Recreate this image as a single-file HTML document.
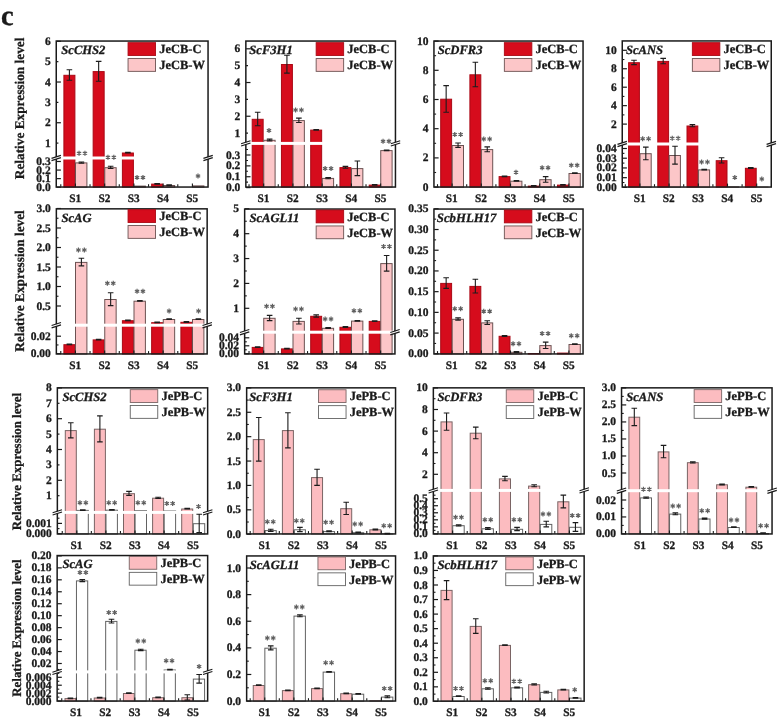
<!DOCTYPE html>
<html><head><meta charset="utf-8"><title>Figure c</title>
<style>html,body{margin:0;padding:0;background:#fff}svg{display:block;will-change:transform;font-family:"Liberation Serif",serif;text-rendering:geometricPrecision}text{stroke:#1a1a1a;stroke-width:.3px}</style>
</head><body>
<svg width="778" height="717" viewBox="0 0 778 717">
<rect width="778" height="717" fill="#fff"/>
<text x="1" y="25" font-size="28.5" text-anchor="start" font-weight="bold" fill="#1a1a1a">c</text>
<text transform="translate(23.7 108.4) rotate(-90)" font-size="13.3" font-weight="bold" text-anchor="middle" fill="#1a1a1a">Relative Expression level</text>
<text transform="translate(23.7 281) rotate(-90)" font-size="13.3" font-weight="bold" text-anchor="middle" fill="#1a1a1a">Relative Expression level</text>
<text transform="translate(21.3 461.5) rotate(-90)" font-size="12.9" font-weight="bold" text-anchor="middle" fill="#1a1a1a">Relative Expression level</text>
<text transform="translate(21.3 628.1) rotate(-90)" font-size="12.9" font-weight="bold" text-anchor="middle" fill="#1a1a1a">Relative Expression level</text>
<g>
<rect x="63.9" y="75.3" width="11" height="111.8" fill="#d60c1c" stroke="#aa0914" stroke-width="1"/>
<rect x="75.5" y="162.9" width="11.4" height="24.2" fill="#fcc6c8" stroke="#6c5252" stroke-width="1"/>
<rect x="93.15" y="71.6" width="11" height="115.5" fill="#d60c1c" stroke="#aa0914" stroke-width="1"/>
<rect x="104.75" y="167.7" width="11.4" height="19.4" fill="#fcc6c8" stroke="#6c5252" stroke-width="1"/>
<rect x="122.4" y="153" width="11" height="34.1" fill="#d60c1c" stroke="#aa0914" stroke-width="1"/>
<rect x="134" y="186.1" width="11.4" height="1" fill="#fcc6c8" stroke="#6c5252" stroke-width="1"/>
<rect x="151.65" y="184.1" width="11" height="3" fill="#d60c1c" stroke="#aa0914" stroke-width="1"/>
<rect x="163.25" y="185.5" width="11.4" height="1.6" fill="#fcc6c8" stroke="#6c5252" stroke-width="1"/>
<rect x="192.5" y="185.9" width="11.4" height="1.2" fill="#fcc6c8" stroke="#6c5252" stroke-width="1"/>
<rect x="56" y="156.5" width="152.3" height="3" fill="#fff"/>
<path d="M69.4 69.7V80.3M66.6 69.7H72.2M66.6 80.3H72.2" stroke="#1c1c1c" stroke-width="1.1" fill="none"/>
<path d="M81.4 162V163.2M78.6 162H84.2M78.6 163.2H84.2" stroke="#1c1c1c" stroke-width="1.1" fill="none"/>
<path d="M98.65 61.4V81.2M95.85 61.4H101.45M95.85 81.2H101.45" stroke="#1c1c1c" stroke-width="1.1" fill="none"/>
<path d="M110.65 166.3V168.5M107.85 166.3H113.45M107.85 168.5H113.45" stroke="#1c1c1c" stroke-width="1.1" fill="none"/>
<path d="M127.9 152.35V153.05M125.1 152.35H130.7M125.1 153.05H130.7" stroke="#1c1c1c" stroke-width="1.1" fill="none"/>
<path d="M157.15 183.45V184.15M154.35 183.45H159.95M154.35 184.15H159.95" stroke="#1c1c1c" stroke-width="1.1" fill="none"/>
<path d="M169.15 184.8V185.6M166.35 184.8H171.95M166.35 185.6H171.95" stroke="#1c1c1c" stroke-width="1.1" fill="none"/>
<rect x="56.25" y="41.05" width="151.8" height="146" fill="none" stroke="#1a1a1a" stroke-width="1.5"/>
<line x1="56.5" y1="41.3" x2="60.9" y2="41.3" stroke="#1a1a1a" stroke-width="1.2"/>
<text x="50.7" y="44.8" font-size="11.5" text-anchor="end" font-weight="bold" fill="#1a1a1a">6</text>
<line x1="56.5" y1="61.66" x2="58.4" y2="61.66" stroke="#1a1a1a" stroke-width="1.2"/>
<text x="50.7" y="65.16" font-size="11.5" text-anchor="end" font-weight="bold" fill="#1a1a1a">5</text>
<line x1="56.5" y1="82.02" x2="60.9" y2="82.02" stroke="#1a1a1a" stroke-width="1.2"/>
<text x="50.7" y="85.52" font-size="11.5" text-anchor="end" font-weight="bold" fill="#1a1a1a">4</text>
<line x1="56.5" y1="102.38" x2="58.4" y2="102.38" stroke="#1a1a1a" stroke-width="1.2"/>
<text x="50.7" y="105.88" font-size="11.5" text-anchor="end" font-weight="bold" fill="#1a1a1a">3</text>
<line x1="56.5" y1="122.74" x2="60.9" y2="122.74" stroke="#1a1a1a" stroke-width="1.2"/>
<text x="50.7" y="126.24" font-size="11.5" text-anchor="end" font-weight="bold" fill="#1a1a1a">2</text>
<line x1="56.5" y1="143.1" x2="58.4" y2="143.1" stroke="#1a1a1a" stroke-width="1.2"/>
<text x="50.7" y="146.6" font-size="11.5" text-anchor="end" font-weight="bold" fill="#1a1a1a">1</text>
<line x1="56.5" y1="161.5" x2="60.9" y2="161.5" stroke="#1a1a1a" stroke-width="1.2"/>
<text x="50.7" y="165" font-size="11.5" text-anchor="end" font-weight="bold" fill="#1a1a1a">0.3</text>
<line x1="56.5" y1="170.07" x2="60.9" y2="170.07" stroke="#1a1a1a" stroke-width="1.2"/>
<text x="50.7" y="173.57" font-size="11.5" text-anchor="end" font-weight="bold" fill="#1a1a1a">0.2</text>
<line x1="56.5" y1="178.63" x2="60.9" y2="178.63" stroke="#1a1a1a" stroke-width="1.2"/>
<text x="50.7" y="182.13" font-size="11.5" text-anchor="end" font-weight="bold" fill="#1a1a1a">0.1</text>
<line x1="56.5" y1="187.2" x2="60.9" y2="187.2" stroke="#1a1a1a" stroke-width="1.2"/>
<text x="50.7" y="190.7" font-size="11.5" text-anchor="end" font-weight="bold" fill="#1a1a1a">0.0</text>
<text x="75.1" y="201.6" font-size="11.3" text-anchor="middle" font-weight="bold" fill="#1a1a1a">S1</text>
<line x1="60.78" y1="186.8" x2="60.78" y2="184.2" stroke="#1a1a1a" stroke-width="1.1"/>
<line x1="75.4" y1="186.8" x2="75.4" y2="183.6" stroke="#1a1a1a" stroke-width="1.1"/>
<text x="104.35" y="201.6" font-size="11.3" text-anchor="middle" font-weight="bold" fill="#1a1a1a">S2</text>
<line x1="90.03" y1="186.8" x2="90.03" y2="184.2" stroke="#1a1a1a" stroke-width="1.1"/>
<line x1="104.65" y1="186.8" x2="104.65" y2="183.6" stroke="#1a1a1a" stroke-width="1.1"/>
<text x="133.6" y="201.6" font-size="11.3" text-anchor="middle" font-weight="bold" fill="#1a1a1a">S3</text>
<line x1="119.28" y1="186.8" x2="119.28" y2="184.2" stroke="#1a1a1a" stroke-width="1.1"/>
<line x1="133.9" y1="186.8" x2="133.9" y2="183.6" stroke="#1a1a1a" stroke-width="1.1"/>
<text x="162.85" y="201.6" font-size="11.3" text-anchor="middle" font-weight="bold" fill="#1a1a1a">S4</text>
<line x1="148.53" y1="186.8" x2="148.53" y2="184.2" stroke="#1a1a1a" stroke-width="1.1"/>
<line x1="163.15" y1="186.8" x2="163.15" y2="183.6" stroke="#1a1a1a" stroke-width="1.1"/>
<text x="192.1" y="201.6" font-size="11.3" text-anchor="middle" font-weight="bold" fill="#1a1a1a">S5</text>
<line x1="177.78" y1="186.8" x2="177.78" y2="184.2" stroke="#1a1a1a" stroke-width="1.1"/>
<line x1="192.4" y1="186.8" x2="192.4" y2="183.6" stroke="#1a1a1a" stroke-width="1.1"/>
<rect x="54.7" y="157" width="3" height="2" fill="#fff"/>
<line x1="51.5" y1="158.35" x2="60.9" y2="155.35" stroke="#1a1a1a" stroke-width="1.15"/>
<line x1="51.5" y1="160.65" x2="60.9" y2="157.65" stroke="#1a1a1a" stroke-width="1.15"/>
<rect x="206.6" y="157" width="3" height="2" fill="#fff"/>
<line x1="203.4" y1="158.35" x2="212.8" y2="155.35" stroke="#1a1a1a" stroke-width="1.15"/>
<line x1="203.4" y1="160.65" x2="212.8" y2="157.65" stroke="#1a1a1a" stroke-width="1.15"/>
<text x="61.3" y="53.9" font-size="12.6" text-anchor="start" font-weight="bold" font-style="italic" fill="#1a1a1a">ScCHS2</text>
<rect x="128.05" y="42.65" width="27.5" height="12.8" fill="#d60c1c" stroke="#aa0914" stroke-width="0.9"/>
<rect x="128.05" y="58.55" width="27.5" height="12.8" fill="#fcc6c8" stroke="#6c5252" stroke-width="0.9"/>
<text x="159.2" y="53.3" font-size="12.5" text-anchor="start" font-weight="bold" fill="#1a1a1a">JeCB-C</text>
<text x="159.2" y="69.2" font-size="12.5" text-anchor="start" font-weight="bold" fill="#1a1a1a">JeCB-W</text>
<path d="M79.05 150.8v5M76.88 152.05l4.33 2.5M76.88 154.55l4.33 -2.5M84.95 150.8v5M82.78 152.05l4.33 2.5M82.78 154.55l4.33 -2.5M107.95 154.7v5M105.78 155.95l4.33 2.5M105.78 158.45l4.33 -2.5M113.85 154.7v5M111.69 155.95l4.33 2.5M111.69 158.45l4.33 -2.5M137.05 175.1v5M134.89 176.35l4.33 2.5M134.89 178.85l4.33 -2.5M142.95 175.1v5M140.78 176.35l4.33 2.5M140.78 178.85l4.33 -2.5M198 173.4v5M195.84 174.65l4.33 2.5M195.84 177.15l4.33 -2.5" stroke="#606060" stroke-width="1.2" fill="none"/>
</g>
<g>
<rect x="252.2" y="119.3" width="10.95" height="67.8" fill="#d60c1c" stroke="#aa0914" stroke-width="1"/>
<rect x="263.75" y="140.3" width="11.35" height="46.8" fill="#fcc6c8" stroke="#6c5252" stroke-width="1"/>
<rect x="281.45" y="64.5" width="10.95" height="122.6" fill="#d60c1c" stroke="#aa0914" stroke-width="1"/>
<rect x="293" y="120.6" width="11.35" height="66.5" fill="#fcc6c8" stroke="#6c5252" stroke-width="1"/>
<rect x="310.7" y="130.1" width="10.95" height="57" fill="#d60c1c" stroke="#aa0914" stroke-width="1"/>
<rect x="322.25" y="178.4" width="11.35" height="8.7" fill="#fcc6c8" stroke="#6c5252" stroke-width="1"/>
<rect x="339.95" y="167.6" width="10.95" height="19.5" fill="#d60c1c" stroke="#aa0914" stroke-width="1"/>
<rect x="351.5" y="168.6" width="11.35" height="18.5" fill="#fcc6c8" stroke="#6c5252" stroke-width="1"/>
<rect x="369.2" y="185.1" width="10.95" height="2" fill="#d60c1c" stroke="#aa0914" stroke-width="1"/>
<rect x="380.75" y="150.6" width="11.35" height="36.5" fill="#fcc6c8" stroke="#6c5252" stroke-width="1"/>
<rect x="245.6" y="141.9" width="150.1" height="3" fill="#fff"/>
<path d="M257.68 112.2V125.8M254.88 112.2H260.48M254.88 125.8H260.48" stroke="#1c1c1c" stroke-width="1.1" fill="none"/>
<path d="M269.62 139.1V140.9M266.82 139.1H272.43M266.82 140.9H272.43" stroke="#1c1c1c" stroke-width="1.1" fill="none"/>
<path d="M286.93 55.3V73.1M284.12 55.3H289.73M284.12 73.1H289.73" stroke="#1c1c1c" stroke-width="1.1" fill="none"/>
<path d="M298.88 118.1V122.5M296.07 118.1H301.68M296.07 122.5H301.68" stroke="#1c1c1c" stroke-width="1.1" fill="none"/>
<path d="M316.18 129.45V130.15M313.38 129.45H318.98M313.38 130.15H318.98" stroke="#1c1c1c" stroke-width="1.1" fill="none"/>
<path d="M328.12 177.5V178.7M325.32 177.5H330.93M325.32 178.7H330.93" stroke="#1c1c1c" stroke-width="1.1" fill="none"/>
<path d="M345.43 166.4V168.2M342.62 166.4H348.23M342.62 168.2H348.23" stroke="#1c1c1c" stroke-width="1.1" fill="none"/>
<path d="M357.38 161V175.6M354.57 161H360.18M354.57 175.6H360.18" stroke="#1c1c1c" stroke-width="1.1" fill="none"/>
<path d="M374.68 184.45V185.15M371.88 184.45H377.48M371.88 185.15H377.48" stroke="#1c1c1c" stroke-width="1.1" fill="none"/>
<path d="M386.62 149.95V150.65M383.82 149.95H389.43M383.82 150.65H389.43" stroke="#1c1c1c" stroke-width="1.1" fill="none"/>
<rect x="245.85" y="41.05" width="149.6" height="146" fill="none" stroke="#1a1a1a" stroke-width="1.5"/>
<line x1="246.1" y1="48.8" x2="250.5" y2="48.8" stroke="#1a1a1a" stroke-width="1.2"/>
<text x="240.3" y="52.3" font-size="11.5" text-anchor="end" font-weight="bold" fill="#1a1a1a">6</text>
<line x1="246.1" y1="65.66" x2="248" y2="65.66" stroke="#1a1a1a" stroke-width="1.2"/>
<text x="240.3" y="69.16" font-size="11.5" text-anchor="end" font-weight="bold" fill="#1a1a1a">5</text>
<line x1="246.1" y1="82.52" x2="250.5" y2="82.52" stroke="#1a1a1a" stroke-width="1.2"/>
<text x="240.3" y="86.02" font-size="11.5" text-anchor="end" font-weight="bold" fill="#1a1a1a">4</text>
<line x1="246.1" y1="99.38" x2="248" y2="99.38" stroke="#1a1a1a" stroke-width="1.2"/>
<text x="240.3" y="102.88" font-size="11.5" text-anchor="end" font-weight="bold" fill="#1a1a1a">3</text>
<line x1="246.1" y1="116.24" x2="250.5" y2="116.24" stroke="#1a1a1a" stroke-width="1.2"/>
<text x="240.3" y="119.74" font-size="11.5" text-anchor="end" font-weight="bold" fill="#1a1a1a">2</text>
<line x1="246.1" y1="133.1" x2="248" y2="133.1" stroke="#1a1a1a" stroke-width="1.2"/>
<text x="240.3" y="136.6" font-size="11.5" text-anchor="end" font-weight="bold" fill="#1a1a1a">1</text>
<line x1="246.1" y1="155" x2="250.5" y2="155" stroke="#1a1a1a" stroke-width="1.2"/>
<text x="240.3" y="158.5" font-size="11.5" text-anchor="end" font-weight="bold" fill="#1a1a1a">0.3</text>
<line x1="246.1" y1="165.87" x2="250.5" y2="165.87" stroke="#1a1a1a" stroke-width="1.2"/>
<text x="240.3" y="169.37" font-size="11.5" text-anchor="end" font-weight="bold" fill="#1a1a1a">0.2</text>
<line x1="246.1" y1="176.73" x2="250.5" y2="176.73" stroke="#1a1a1a" stroke-width="1.2"/>
<text x="240.3" y="180.23" font-size="11.5" text-anchor="end" font-weight="bold" fill="#1a1a1a">0.1</text>
<line x1="246.1" y1="187.6" x2="250.5" y2="187.6" stroke="#1a1a1a" stroke-width="1.2"/>
<text x="240.3" y="191.1" font-size="11.5" text-anchor="end" font-weight="bold" fill="#1a1a1a">0.0</text>
<line x1="246.1" y1="149.57" x2="248" y2="149.57" stroke="#1a1a1a" stroke-width="1.1"/>
<line x1="246.1" y1="160.43" x2="248" y2="160.43" stroke="#1a1a1a" stroke-width="1.1"/>
<line x1="246.1" y1="171.3" x2="248" y2="171.3" stroke="#1a1a1a" stroke-width="1.1"/>
<line x1="246.1" y1="182.17" x2="248" y2="182.17" stroke="#1a1a1a" stroke-width="1.1"/>
<text x="263.35" y="201.6" font-size="11.3" text-anchor="middle" font-weight="bold" fill="#1a1a1a">S1</text>
<line x1="249.02" y1="186.8" x2="249.02" y2="184.2" stroke="#1a1a1a" stroke-width="1.1"/>
<line x1="263.65" y1="186.8" x2="263.65" y2="183.6" stroke="#1a1a1a" stroke-width="1.1"/>
<text x="292.6" y="201.6" font-size="11.3" text-anchor="middle" font-weight="bold" fill="#1a1a1a">S2</text>
<line x1="278.27" y1="186.8" x2="278.27" y2="184.2" stroke="#1a1a1a" stroke-width="1.1"/>
<line x1="292.9" y1="186.8" x2="292.9" y2="183.6" stroke="#1a1a1a" stroke-width="1.1"/>
<text x="321.85" y="201.6" font-size="11.3" text-anchor="middle" font-weight="bold" fill="#1a1a1a">S3</text>
<line x1="307.52" y1="186.8" x2="307.52" y2="184.2" stroke="#1a1a1a" stroke-width="1.1"/>
<line x1="322.15" y1="186.8" x2="322.15" y2="183.6" stroke="#1a1a1a" stroke-width="1.1"/>
<text x="351.1" y="201.6" font-size="11.3" text-anchor="middle" font-weight="bold" fill="#1a1a1a">S4</text>
<line x1="336.77" y1="186.8" x2="336.77" y2="184.2" stroke="#1a1a1a" stroke-width="1.1"/>
<line x1="351.4" y1="186.8" x2="351.4" y2="183.6" stroke="#1a1a1a" stroke-width="1.1"/>
<text x="380.35" y="201.6" font-size="11.3" text-anchor="middle" font-weight="bold" fill="#1a1a1a">S5</text>
<line x1="366.02" y1="186.8" x2="366.02" y2="184.2" stroke="#1a1a1a" stroke-width="1.1"/>
<line x1="380.65" y1="186.8" x2="380.65" y2="183.6" stroke="#1a1a1a" stroke-width="1.1"/>
<rect x="244.3" y="142.4" width="3" height="2" fill="#fff"/>
<line x1="241.1" y1="143.75" x2="250.5" y2="140.75" stroke="#1a1a1a" stroke-width="1.15"/>
<line x1="241.1" y1="146.05" x2="250.5" y2="143.05" stroke="#1a1a1a" stroke-width="1.15"/>
<rect x="394" y="142.4" width="3" height="2" fill="#fff"/>
<line x1="390.8" y1="143.75" x2="400.2" y2="140.75" stroke="#1a1a1a" stroke-width="1.15"/>
<line x1="390.8" y1="146.05" x2="400.2" y2="143.05" stroke="#1a1a1a" stroke-width="1.15"/>
<text x="249.3" y="53.9" font-size="12.6" text-anchor="start" font-weight="bold" font-style="italic" fill="#1a1a1a">ScF3H1</text>
<rect x="316.15" y="42.65" width="27.5" height="12.8" fill="#d60c1c" stroke="#aa0914" stroke-width="0.9"/>
<rect x="316.15" y="58.55" width="27.5" height="12.8" fill="#fcc6c8" stroke="#6c5252" stroke-width="0.9"/>
<text x="347.3" y="53.3" font-size="12.5" text-anchor="start" font-weight="bold" fill="#1a1a1a">JeCB-C</text>
<text x="347.3" y="69.2" font-size="12.5" text-anchor="start" font-weight="bold" fill="#1a1a1a">JeCB-W</text>
<path d="M269 128v5M266.83 129.25l4.33 2.5M266.83 131.75l4.33 -2.5M295.55 107.5v5M293.38 108.75l4.33 2.5M293.38 111.25l4.33 -2.5M301.45 107.5v5M299.28 108.75l4.33 2.5M299.28 111.25l4.33 -2.5M325.15 166.1v5M322.99 167.35l4.33 2.5M322.99 169.85l4.33 -2.5M331.05 166.1v5M328.88 167.35l4.33 2.5M328.88 169.85l4.33 -2.5M383.05 138.8v5M380.88 140.05l4.33 2.5M380.88 142.55l4.33 -2.5M388.95 138.8v5M386.78 140.05l4.33 2.5M386.78 142.55l4.33 -2.5" stroke="#606060" stroke-width="1.2" fill="none"/>
</g>
<g>
<rect x="440.7" y="99.2" width="10.9" height="87.9" fill="#d60c1c" stroke="#aa0914" stroke-width="1"/>
<rect x="452.2" y="145.5" width="11.3" height="41.6" fill="#fcc6c8" stroke="#6c5252" stroke-width="1"/>
<rect x="469.9" y="74.8" width="10.9" height="112.3" fill="#d60c1c" stroke="#aa0914" stroke-width="1"/>
<rect x="481.4" y="149.6" width="11.3" height="37.5" fill="#fcc6c8" stroke="#6c5252" stroke-width="1"/>
<rect x="499.1" y="176.6" width="10.9" height="10.5" fill="#d60c1c" stroke="#aa0914" stroke-width="1"/>
<rect x="510.6" y="181.2" width="11.3" height="5.9" fill="#fcc6c8" stroke="#6c5252" stroke-width="1"/>
<rect x="528.3" y="186.1" width="10.9" height="1" fill="#d60c1c" stroke="#aa0914" stroke-width="1"/>
<rect x="539.8" y="179.7" width="11.3" height="7.4" fill="#fcc6c8" stroke="#6c5252" stroke-width="1"/>
<rect x="557.5" y="185.1" width="10.9" height="2" fill="#d60c1c" stroke="#aa0914" stroke-width="1"/>
<rect x="569" y="173.5" width="11.3" height="13.6" fill="#fcc6c8" stroke="#6c5252" stroke-width="1"/>
<path d="M446.15 85.6V112.2M443.35 85.6H448.95M443.35 112.2H448.95" stroke="#1c1c1c" stroke-width="1.1" fill="none"/>
<path d="M458.05 143V147.4M455.25 143H460.85M455.25 147.4H460.85" stroke="#1c1c1c" stroke-width="1.1" fill="none"/>
<path d="M475.35 62.2V86.8M472.55 62.2H478.15M472.55 86.8H478.15" stroke="#1c1c1c" stroke-width="1.1" fill="none"/>
<path d="M487.25 146.9V151.7M484.45 146.9H490.05M484.45 151.7H490.05" stroke="#1c1c1c" stroke-width="1.1" fill="none"/>
<path d="M504.55 175.95V176.65M501.75 175.95H507.35M501.75 176.65H507.35" stroke="#1c1c1c" stroke-width="1.1" fill="none"/>
<path d="M516.45 180.55V181.25M513.65 180.55H519.25M513.65 181.25H519.25" stroke="#1c1c1c" stroke-width="1.1" fill="none"/>
<path d="M533.75 185.45V186.15M530.95 185.45H536.55M530.95 186.15H536.55" stroke="#1c1c1c" stroke-width="1.1" fill="none"/>
<path d="M545.65 176.6V182.2M542.85 176.6H548.45M542.85 182.2H548.45" stroke="#1c1c1c" stroke-width="1.1" fill="none"/>
<path d="M562.95 184.45V185.15M560.15 184.45H565.75M560.15 185.15H565.75" stroke="#1c1c1c" stroke-width="1.1" fill="none"/>
<path d="M574.85 172.85V173.55M572.05 172.85H577.65M572.05 173.55H577.65" stroke="#1c1c1c" stroke-width="1.1" fill="none"/>
<rect x="433.95" y="41.05" width="149.1" height="146" fill="none" stroke="#1a1a1a" stroke-width="1.5"/>
<line x1="434.2" y1="41.1" x2="438.6" y2="41.1" stroke="#1a1a1a" stroke-width="1.2"/>
<text x="428.4" y="44.6" font-size="11.5" text-anchor="end" font-weight="bold" fill="#1a1a1a">10</text>
<line x1="434.2" y1="70.3" x2="438.6" y2="70.3" stroke="#1a1a1a" stroke-width="1.2"/>
<text x="428.4" y="73.8" font-size="11.5" text-anchor="end" font-weight="bold" fill="#1a1a1a">8</text>
<line x1="434.2" y1="99.5" x2="438.6" y2="99.5" stroke="#1a1a1a" stroke-width="1.2"/>
<text x="428.4" y="103" font-size="11.5" text-anchor="end" font-weight="bold" fill="#1a1a1a">6</text>
<line x1="434.2" y1="128.7" x2="438.6" y2="128.7" stroke="#1a1a1a" stroke-width="1.2"/>
<text x="428.4" y="132.2" font-size="11.5" text-anchor="end" font-weight="bold" fill="#1a1a1a">4</text>
<line x1="434.2" y1="157.9" x2="438.6" y2="157.9" stroke="#1a1a1a" stroke-width="1.2"/>
<text x="428.4" y="161.4" font-size="11.5" text-anchor="end" font-weight="bold" fill="#1a1a1a">2</text>
<line x1="434.2" y1="187.1" x2="438.6" y2="187.1" stroke="#1a1a1a" stroke-width="1.2"/>
<text x="428.4" y="190.6" font-size="11.5" text-anchor="end" font-weight="bold" fill="#1a1a1a">0</text>
<line x1="434.2" y1="55.7" x2="436.1" y2="55.7" stroke="#1a1a1a" stroke-width="1.1"/>
<line x1="434.2" y1="84.9" x2="436.1" y2="84.9" stroke="#1a1a1a" stroke-width="1.1"/>
<line x1="434.2" y1="114.1" x2="436.1" y2="114.1" stroke="#1a1a1a" stroke-width="1.1"/>
<line x1="434.2" y1="143.3" x2="436.1" y2="143.3" stroke="#1a1a1a" stroke-width="1.1"/>
<line x1="434.2" y1="172.5" x2="436.1" y2="172.5" stroke="#1a1a1a" stroke-width="1.1"/>
<text x="451.8" y="201.6" font-size="11.3" text-anchor="middle" font-weight="bold" fill="#1a1a1a">S1</text>
<line x1="437.5" y1="186.8" x2="437.5" y2="184.2" stroke="#1a1a1a" stroke-width="1.1"/>
<line x1="452.1" y1="186.8" x2="452.1" y2="183.6" stroke="#1a1a1a" stroke-width="1.1"/>
<text x="481" y="201.6" font-size="11.3" text-anchor="middle" font-weight="bold" fill="#1a1a1a">S2</text>
<line x1="466.7" y1="186.8" x2="466.7" y2="184.2" stroke="#1a1a1a" stroke-width="1.1"/>
<line x1="481.3" y1="186.8" x2="481.3" y2="183.6" stroke="#1a1a1a" stroke-width="1.1"/>
<text x="510.2" y="201.6" font-size="11.3" text-anchor="middle" font-weight="bold" fill="#1a1a1a">S3</text>
<line x1="495.9" y1="186.8" x2="495.9" y2="184.2" stroke="#1a1a1a" stroke-width="1.1"/>
<line x1="510.5" y1="186.8" x2="510.5" y2="183.6" stroke="#1a1a1a" stroke-width="1.1"/>
<text x="539.4" y="201.6" font-size="11.3" text-anchor="middle" font-weight="bold" fill="#1a1a1a">S4</text>
<line x1="525.1" y1="186.8" x2="525.1" y2="184.2" stroke="#1a1a1a" stroke-width="1.1"/>
<line x1="539.7" y1="186.8" x2="539.7" y2="183.6" stroke="#1a1a1a" stroke-width="1.1"/>
<text x="568.6" y="201.6" font-size="11.3" text-anchor="middle" font-weight="bold" fill="#1a1a1a">S5</text>
<line x1="554.3" y1="186.8" x2="554.3" y2="184.2" stroke="#1a1a1a" stroke-width="1.1"/>
<line x1="568.9" y1="186.8" x2="568.9" y2="183.6" stroke="#1a1a1a" stroke-width="1.1"/>
<text x="437.7" y="53.9" font-size="12.6" text-anchor="start" font-weight="bold" font-style="italic" fill="#1a1a1a">ScDFR3</text>
<rect x="504.35" y="42.65" width="27.5" height="12.8" fill="#d60c1c" stroke="#aa0914" stroke-width="0.9"/>
<rect x="504.35" y="58.55" width="27.5" height="12.8" fill="#fcc6c8" stroke="#6c5252" stroke-width="0.9"/>
<text x="535.5" y="53.3" font-size="12.5" text-anchor="start" font-weight="bold" fill="#1a1a1a">JeCB-C</text>
<text x="535.5" y="69.2" font-size="12.5" text-anchor="start" font-weight="bold" fill="#1a1a1a">JeCB-W</text>
<path d="M454.75 131.9v5M452.58 133.15l4.33 2.5M452.58 135.65l4.33 -2.5M460.65 131.9v5M458.48 133.15l4.33 2.5M458.48 135.65l4.33 -2.5M483.75 136.5v5M481.58 137.75l4.33 2.5M481.58 140.25l4.33 -2.5M489.65 136.5v5M487.48 137.75l4.33 2.5M487.48 140.25l4.33 -2.5M516 169.7v5M513.84 170.95l4.33 2.5M513.84 173.45l4.33 -2.5M542.15 165.3v5M539.99 166.55l4.33 2.5M539.99 169.05l4.33 -2.5M548.05 165.3v5M545.89 166.55l4.33 2.5M545.89 169.05l4.33 -2.5M571.25 162.7v5M569.09 163.95l4.33 2.5M569.09 166.45l4.33 -2.5M577.15 162.7v5M574.99 163.95l4.33 2.5M574.99 166.45l4.33 -2.5" stroke="#606060" stroke-width="1.2" fill="none"/>
</g>
<g>
<rect x="628.6" y="62.7" width="10.8" height="124.4" fill="#d60c1c" stroke="#aa0914" stroke-width="1"/>
<rect x="640" y="153.7" width="11.2" height="33.4" fill="#fcc6c8" stroke="#6c5252" stroke-width="1"/>
<rect x="657.8" y="61.4" width="10.8" height="125.7" fill="#d60c1c" stroke="#aa0914" stroke-width="1"/>
<rect x="669.2" y="155.5" width="11.2" height="31.6" fill="#fcc6c8" stroke="#6c5252" stroke-width="1"/>
<rect x="687" y="126" width="10.8" height="61.1" fill="#d60c1c" stroke="#aa0914" stroke-width="1"/>
<rect x="698.4" y="169.9" width="11.2" height="17.2" fill="#fcc6c8" stroke="#6c5252" stroke-width="1"/>
<rect x="716.2" y="160.7" width="10.8" height="26.4" fill="#d60c1c" stroke="#aa0914" stroke-width="1"/>
<rect x="727.6" y="186.9" width="11.2" height="0.2" fill="#fcc6c8" stroke="#6c5252" stroke-width="1"/>
<rect x="745.4" y="168.3" width="10.8" height="18.8" fill="#d60c1c" stroke="#aa0914" stroke-width="1"/>
<line x1="756.7" y1="187" x2="768.5" y2="187" stroke="#6c5252" stroke-width="0.8"/>
<rect x="622" y="142.5" width="149.5" height="3" fill="#fff"/>
<path d="M634 60.2V64.6M631.2 60.2H636.8M631.2 64.6H636.8" stroke="#1c1c1c" stroke-width="1.1" fill="none"/>
<path d="M645.8 147.1V159.7M643 147.1H648.6M643 159.7H648.6" stroke="#1c1c1c" stroke-width="1.1" fill="none"/>
<path d="M663.2 58.4V63.8M660.4 58.4H666M660.4 63.8H666" stroke="#1c1c1c" stroke-width="1.1" fill="none"/>
<path d="M675 146.3V164.1M672.2 146.3H677.8M672.2 164.1H677.8" stroke="#1c1c1c" stroke-width="1.1" fill="none"/>
<path d="M692.4 124.6V126.8M689.6 124.6H695.2M689.6 126.8H695.2" stroke="#1c1c1c" stroke-width="1.1" fill="none"/>
<path d="M704.2 169.25V169.95M701.4 169.25H707M701.4 169.95H707" stroke="#1c1c1c" stroke-width="1.1" fill="none"/>
<path d="M721.6 157.8V163M718.8 157.8H724.4M718.8 163H724.4" stroke="#1c1c1c" stroke-width="1.1" fill="none"/>
<path d="M750.8 167.65V168.35M748 167.65H753.6M748 168.35H753.6" stroke="#1c1c1c" stroke-width="1.1" fill="none"/>
<rect x="622.25" y="40.95" width="149" height="146.1" fill="none" stroke="#1a1a1a" stroke-width="1.5"/>
<line x1="622.5" y1="50.3" x2="626.9" y2="50.3" stroke="#1a1a1a" stroke-width="1.2"/>
<text x="616.7" y="53.8" font-size="11.5" text-anchor="end" font-weight="bold" fill="#1a1a1a">10</text>
<line x1="622.5" y1="68.75" x2="626.9" y2="68.75" stroke="#1a1a1a" stroke-width="1.2"/>
<text x="616.7" y="72.25" font-size="11.5" text-anchor="end" font-weight="bold" fill="#1a1a1a">8</text>
<line x1="622.5" y1="87.2" x2="626.9" y2="87.2" stroke="#1a1a1a" stroke-width="1.2"/>
<text x="616.7" y="90.7" font-size="11.5" text-anchor="end" font-weight="bold" fill="#1a1a1a">6</text>
<line x1="622.5" y1="105.65" x2="626.9" y2="105.65" stroke="#1a1a1a" stroke-width="1.2"/>
<text x="616.7" y="109.15" font-size="11.5" text-anchor="end" font-weight="bold" fill="#1a1a1a">4</text>
<line x1="622.5" y1="124.1" x2="626.9" y2="124.1" stroke="#1a1a1a" stroke-width="1.2"/>
<text x="616.7" y="127.6" font-size="11.5" text-anchor="end" font-weight="bold" fill="#1a1a1a">2</text>
<line x1="622.5" y1="148.5" x2="626.9" y2="148.5" stroke="#1a1a1a" stroke-width="1.2"/>
<text x="616.7" y="152" font-size="11.5" text-anchor="end" font-weight="bold" fill="#1a1a1a">0.04</text>
<line x1="622.5" y1="158.22" x2="626.9" y2="158.22" stroke="#1a1a1a" stroke-width="1.2"/>
<text x="616.7" y="161.72" font-size="11.5" text-anchor="end" font-weight="bold" fill="#1a1a1a">0.03</text>
<line x1="622.5" y1="167.95" x2="626.9" y2="167.95" stroke="#1a1a1a" stroke-width="1.2"/>
<text x="616.7" y="171.45" font-size="11.5" text-anchor="end" font-weight="bold" fill="#1a1a1a">0.02</text>
<line x1="622.5" y1="177.68" x2="626.9" y2="177.68" stroke="#1a1a1a" stroke-width="1.2"/>
<text x="616.7" y="181.18" font-size="11.5" text-anchor="end" font-weight="bold" fill="#1a1a1a">0.01</text>
<line x1="622.5" y1="187.4" x2="626.9" y2="187.4" stroke="#1a1a1a" stroke-width="1.2"/>
<text x="616.7" y="190.9" font-size="11.5" text-anchor="end" font-weight="bold" fill="#1a1a1a">0.00</text>
<line x1="622.5" y1="59.52" x2="624.4" y2="59.52" stroke="#1a1a1a" stroke-width="1.1"/>
<line x1="622.5" y1="77.97" x2="624.4" y2="77.97" stroke="#1a1a1a" stroke-width="1.1"/>
<line x1="622.5" y1="96.42" x2="624.4" y2="96.42" stroke="#1a1a1a" stroke-width="1.1"/>
<line x1="622.5" y1="114.88" x2="624.4" y2="114.88" stroke="#1a1a1a" stroke-width="1.1"/>
<line x1="622.5" y1="153.36" x2="624.4" y2="153.36" stroke="#1a1a1a" stroke-width="1.1"/>
<line x1="622.5" y1="163.09" x2="624.4" y2="163.09" stroke="#1a1a1a" stroke-width="1.1"/>
<line x1="622.5" y1="172.81" x2="624.4" y2="172.81" stroke="#1a1a1a" stroke-width="1.1"/>
<line x1="622.5" y1="182.54" x2="624.4" y2="182.54" stroke="#1a1a1a" stroke-width="1.1"/>
<text x="639.6" y="201.6" font-size="11.3" text-anchor="middle" font-weight="bold" fill="#1a1a1a">S1</text>
<line x1="625.3" y1="186.8" x2="625.3" y2="184.2" stroke="#1a1a1a" stroke-width="1.1"/>
<line x1="639.9" y1="186.8" x2="639.9" y2="183.6" stroke="#1a1a1a" stroke-width="1.1"/>
<text x="668.8" y="201.6" font-size="11.3" text-anchor="middle" font-weight="bold" fill="#1a1a1a">S2</text>
<line x1="654.5" y1="186.8" x2="654.5" y2="184.2" stroke="#1a1a1a" stroke-width="1.1"/>
<line x1="669.1" y1="186.8" x2="669.1" y2="183.6" stroke="#1a1a1a" stroke-width="1.1"/>
<text x="698" y="201.6" font-size="11.3" text-anchor="middle" font-weight="bold" fill="#1a1a1a">S3</text>
<line x1="683.7" y1="186.8" x2="683.7" y2="184.2" stroke="#1a1a1a" stroke-width="1.1"/>
<line x1="698.3" y1="186.8" x2="698.3" y2="183.6" stroke="#1a1a1a" stroke-width="1.1"/>
<text x="727.2" y="201.6" font-size="11.3" text-anchor="middle" font-weight="bold" fill="#1a1a1a">S4</text>
<line x1="712.9" y1="186.8" x2="712.9" y2="184.2" stroke="#1a1a1a" stroke-width="1.1"/>
<line x1="727.5" y1="186.8" x2="727.5" y2="183.6" stroke="#1a1a1a" stroke-width="1.1"/>
<text x="756.4" y="201.6" font-size="11.3" text-anchor="middle" font-weight="bold" fill="#1a1a1a">S5</text>
<line x1="742.1" y1="186.8" x2="742.1" y2="184.2" stroke="#1a1a1a" stroke-width="1.1"/>
<line x1="756.7" y1="186.8" x2="756.7" y2="183.6" stroke="#1a1a1a" stroke-width="1.1"/>
<rect x="620.7" y="143" width="3" height="2" fill="#fff"/>
<line x1="617.5" y1="144.35" x2="626.9" y2="141.35" stroke="#1a1a1a" stroke-width="1.15"/>
<line x1="617.5" y1="146.65" x2="626.9" y2="143.65" stroke="#1a1a1a" stroke-width="1.15"/>
<rect x="769.8" y="143" width="3" height="2" fill="#fff"/>
<line x1="766.6" y1="144.35" x2="776" y2="141.35" stroke="#1a1a1a" stroke-width="1.15"/>
<line x1="766.6" y1="146.65" x2="776" y2="143.65" stroke="#1a1a1a" stroke-width="1.15"/>
<text x="626" y="53.8" font-size="12.6" text-anchor="start" font-weight="bold" font-style="italic" fill="#1a1a1a">ScANS</text>
<rect x="692.35" y="42.65" width="27.5" height="12.8" fill="#d60c1c" stroke="#aa0914" stroke-width="0.9"/>
<rect x="692.35" y="58.55" width="27.5" height="12.8" fill="#fcc6c8" stroke="#6c5252" stroke-width="0.9"/>
<text x="723.5" y="53.3" font-size="12.5" text-anchor="start" font-weight="bold" fill="#1a1a1a">JeCB-C</text>
<text x="723.5" y="69.2" font-size="12.5" text-anchor="start" font-weight="bold" fill="#1a1a1a">JeCB-W</text>
<path d="M642.65 136.3v5M640.49 137.55l4.33 2.5M640.49 140.05l4.33 -2.5M648.55 136.3v5M646.39 137.55l4.33 2.5M646.39 140.05l4.33 -2.5M672.25 135.8v5M670.09 137.05l4.33 2.5M670.09 139.55l4.33 -2.5M678.15 135.8v5M675.99 137.05l4.33 2.5M675.99 139.55l4.33 -2.5M701.55 159.4v5M699.38 160.65l4.33 2.5M699.38 163.15l4.33 -2.5M707.45 159.4v5M705.29 160.65l4.33 2.5M705.29 163.15l4.33 -2.5M734.8 175.1v5M732.63 176.35l4.33 2.5M732.63 178.85l4.33 -2.5M761.8 176.4v5M759.63 177.65l4.33 2.5M759.63 180.15l4.33 -2.5" stroke="#606060" stroke-width="1.2" fill="none"/>
</g>
<g>
<rect x="63.9" y="344.7" width="11" height="9.3" fill="#d60c1c" stroke="#aa0914" stroke-width="1"/>
<rect x="75.5" y="262.4" width="11.4" height="91.6" fill="#fcc6c8" stroke="#6c5252" stroke-width="1"/>
<rect x="93.15" y="339.9" width="11" height="14.1" fill="#d60c1c" stroke="#aa0914" stroke-width="1"/>
<rect x="104.75" y="299.5" width="11.4" height="54.5" fill="#fcc6c8" stroke="#6c5252" stroke-width="1"/>
<rect x="122.4" y="320.7" width="11" height="33.3" fill="#d60c1c" stroke="#aa0914" stroke-width="1"/>
<rect x="134" y="301.2" width="11.4" height="52.8" fill="#fcc6c8" stroke="#6c5252" stroke-width="1"/>
<rect x="151.65" y="322.7" width="11" height="31.3" fill="#d60c1c" stroke="#aa0914" stroke-width="1"/>
<rect x="163.25" y="319.5" width="11.4" height="34.5" fill="#fcc6c8" stroke="#6c5252" stroke-width="1"/>
<rect x="180.9" y="322.3" width="11" height="31.7" fill="#d60c1c" stroke="#aa0914" stroke-width="1"/>
<rect x="192.5" y="319.5" width="11.4" height="34.5" fill="#fcc6c8" stroke="#6c5252" stroke-width="1"/>
<rect x="56.1" y="323.7" width="151.3" height="3" fill="#fff"/>
<path d="M69.4 344.05V344.75M66.6 344.05H72.2M66.6 344.75H72.2" stroke="#1c1c1c" stroke-width="1.1" fill="none"/>
<path d="M81.4 258.3V265.9M78.6 258.3H84.2M78.6 265.9H84.2" stroke="#1c1c1c" stroke-width="1.1" fill="none"/>
<path d="M98.65 339.25V339.95M95.85 339.25H101.45M95.85 339.95H101.45" stroke="#1c1c1c" stroke-width="1.1" fill="none"/>
<path d="M110.65 292.8V305.6M107.85 292.8H113.45M107.85 305.6H113.45" stroke="#1c1c1c" stroke-width="1.1" fill="none"/>
<path d="M127.9 320.05V320.75M125.1 320.05H130.7M125.1 320.75H130.7" stroke="#1c1c1c" stroke-width="1.1" fill="none"/>
<path d="M139.9 300.55V301.25M137.1 300.55H142.7M137.1 301.25H142.7" stroke="#1c1c1c" stroke-width="1.1" fill="none"/>
<path d="M157.15 322.05V322.75M154.35 322.05H159.95M154.35 322.75H159.95" stroke="#1c1c1c" stroke-width="1.1" fill="none"/>
<path d="M169.15 318.85V319.55M166.35 318.85H171.95M166.35 319.55H171.95" stroke="#1c1c1c" stroke-width="1.1" fill="none"/>
<path d="M186.4 321.65V322.35M183.6 321.65H189.2M183.6 322.35H189.2" stroke="#1c1c1c" stroke-width="1.1" fill="none"/>
<path d="M198.4 318.85V319.55M195.6 318.85H201.2M195.6 319.55H201.2" stroke="#1c1c1c" stroke-width="1.1" fill="none"/>
<rect x="56.35" y="208.85" width="150.8" height="145.1" fill="none" stroke="#1a1a1a" stroke-width="1.5"/>
<line x1="56.6" y1="208.5" x2="61" y2="208.5" stroke="#1a1a1a" stroke-width="1.2"/>
<text x="50.8" y="212" font-size="11.5" text-anchor="end" font-weight="bold" fill="#1a1a1a">3.0</text>
<line x1="56.6" y1="228" x2="61" y2="228" stroke="#1a1a1a" stroke-width="1.2"/>
<text x="50.8" y="231.5" font-size="11.5" text-anchor="end" font-weight="bold" fill="#1a1a1a">2.5</text>
<line x1="56.6" y1="247.5" x2="61" y2="247.5" stroke="#1a1a1a" stroke-width="1.2"/>
<text x="50.8" y="251" font-size="11.5" text-anchor="end" font-weight="bold" fill="#1a1a1a">2.0</text>
<line x1="56.6" y1="267" x2="61" y2="267" stroke="#1a1a1a" stroke-width="1.2"/>
<text x="50.8" y="270.5" font-size="11.5" text-anchor="end" font-weight="bold" fill="#1a1a1a">1.5</text>
<line x1="56.6" y1="286.5" x2="61" y2="286.5" stroke="#1a1a1a" stroke-width="1.2"/>
<text x="50.8" y="290" font-size="11.5" text-anchor="end" font-weight="bold" fill="#1a1a1a">1.0</text>
<line x1="56.6" y1="306" x2="61" y2="306" stroke="#1a1a1a" stroke-width="1.2"/>
<text x="50.8" y="309.5" font-size="11.5" text-anchor="end" font-weight="bold" fill="#1a1a1a">0.5</text>
<line x1="56.6" y1="336.2" x2="61" y2="336.2" stroke="#1a1a1a" stroke-width="1.2"/>
<text x="50.8" y="339.7" font-size="11.5" text-anchor="end" font-weight="bold" fill="#1a1a1a">0.02</text>
<line x1="56.6" y1="353.7" x2="61" y2="353.7" stroke="#1a1a1a" stroke-width="1.2"/>
<text x="50.8" y="357.2" font-size="11.5" text-anchor="end" font-weight="bold" fill="#1a1a1a">0.00</text>
<line x1="56.6" y1="218.25" x2="58.5" y2="218.25" stroke="#1a1a1a" stroke-width="1.1"/>
<line x1="56.6" y1="237.75" x2="58.5" y2="237.75" stroke="#1a1a1a" stroke-width="1.1"/>
<line x1="56.6" y1="257.25" x2="58.5" y2="257.25" stroke="#1a1a1a" stroke-width="1.1"/>
<line x1="56.6" y1="276.75" x2="58.5" y2="276.75" stroke="#1a1a1a" stroke-width="1.1"/>
<line x1="56.6" y1="296.25" x2="58.5" y2="296.25" stroke="#1a1a1a" stroke-width="1.1"/>
<line x1="56.6" y1="344.95" x2="58.5" y2="344.95" stroke="#1a1a1a" stroke-width="1.1"/>
<text x="75.1" y="368.5" font-size="11.3" text-anchor="middle" font-weight="bold" fill="#1a1a1a">S1</text>
<line x1="60.78" y1="353.7" x2="60.78" y2="351.1" stroke="#1a1a1a" stroke-width="1.1"/>
<line x1="75.4" y1="353.7" x2="75.4" y2="350.5" stroke="#1a1a1a" stroke-width="1.1"/>
<text x="104.35" y="368.5" font-size="11.3" text-anchor="middle" font-weight="bold" fill="#1a1a1a">S2</text>
<line x1="90.03" y1="353.7" x2="90.03" y2="351.1" stroke="#1a1a1a" stroke-width="1.1"/>
<line x1="104.65" y1="353.7" x2="104.65" y2="350.5" stroke="#1a1a1a" stroke-width="1.1"/>
<text x="133.6" y="368.5" font-size="11.3" text-anchor="middle" font-weight="bold" fill="#1a1a1a">S3</text>
<line x1="119.28" y1="353.7" x2="119.28" y2="351.1" stroke="#1a1a1a" stroke-width="1.1"/>
<line x1="133.9" y1="353.7" x2="133.9" y2="350.5" stroke="#1a1a1a" stroke-width="1.1"/>
<text x="162.85" y="368.5" font-size="11.3" text-anchor="middle" font-weight="bold" fill="#1a1a1a">S4</text>
<line x1="148.53" y1="353.7" x2="148.53" y2="351.1" stroke="#1a1a1a" stroke-width="1.1"/>
<line x1="163.15" y1="353.7" x2="163.15" y2="350.5" stroke="#1a1a1a" stroke-width="1.1"/>
<text x="192.1" y="368.5" font-size="11.3" text-anchor="middle" font-weight="bold" fill="#1a1a1a">S5</text>
<line x1="177.78" y1="353.7" x2="177.78" y2="351.1" stroke="#1a1a1a" stroke-width="1.1"/>
<line x1="192.4" y1="353.7" x2="192.4" y2="350.5" stroke="#1a1a1a" stroke-width="1.1"/>
<rect x="54.8" y="324.2" width="3" height="2" fill="#fff"/>
<line x1="51.6" y1="325.55" x2="61" y2="322.55" stroke="#1a1a1a" stroke-width="1.15"/>
<line x1="51.6" y1="327.85" x2="61" y2="324.85" stroke="#1a1a1a" stroke-width="1.15"/>
<rect x="205.7" y="324.2" width="3" height="2" fill="#fff"/>
<line x1="202.5" y1="325.55" x2="211.9" y2="322.55" stroke="#1a1a1a" stroke-width="1.15"/>
<line x1="202.5" y1="327.85" x2="211.9" y2="324.85" stroke="#1a1a1a" stroke-width="1.15"/>
<text x="61.4" y="221.7" font-size="12.6" text-anchor="start" font-weight="bold" font-style="italic" fill="#1a1a1a">ScAG</text>
<rect x="128.05" y="209.65" width="27.5" height="12.8" fill="#d60c1c" stroke="#aa0914" stroke-width="0.9"/>
<rect x="128.05" y="225.55" width="27.5" height="12.8" fill="#fcc6c8" stroke="#6c5252" stroke-width="0.9"/>
<text x="159.2" y="220.3" font-size="12.5" text-anchor="start" font-weight="bold" fill="#1a1a1a">JeCB-C</text>
<text x="159.2" y="236.2" font-size="12.5" text-anchor="start" font-weight="bold" fill="#1a1a1a">JeCB-W</text>
<path d="M78.45 247.5v5M76.28 248.75l4.33 2.5M76.28 251.25l4.33 -2.5M84.35 247.5v5M82.19 248.75l4.33 2.5M82.19 251.25l4.33 -2.5M107.35 280.8v5M105.18 282.05l4.33 2.5M105.18 284.55l4.33 -2.5M113.25 280.8v5M111.08 282.05l4.33 2.5M111.08 284.55l4.33 -2.5M137.05 288.7v5M134.89 289.95l4.33 2.5M134.89 292.45l4.33 -2.5M142.95 288.7v5M140.78 289.95l4.33 2.5M140.78 292.45l4.33 -2.5M169.1 308.5v5M166.94 309.75l4.33 2.5M166.94 312.25l4.33 -2.5M198.5 308.5v5M196.34 309.75l4.33 2.5M196.34 312.25l4.33 -2.5" stroke="#606060" stroke-width="1.2" fill="none"/>
</g>
<g>
<rect x="252.2" y="347.4" width="10.95" height="6.6" fill="#d60c1c" stroke="#aa0914" stroke-width="1"/>
<rect x="263.75" y="318.3" width="11.35" height="35.7" fill="#fcc6c8" stroke="#6c5252" stroke-width="1"/>
<rect x="281.45" y="348.9" width="10.95" height="5.1" fill="#d60c1c" stroke="#aa0914" stroke-width="1"/>
<rect x="293" y="321.4" width="11.35" height="32.6" fill="#fcc6c8" stroke="#6c5252" stroke-width="1"/>
<rect x="310.7" y="316.3" width="10.95" height="37.7" fill="#d60c1c" stroke="#aa0914" stroke-width="1"/>
<rect x="322.25" y="328.3" width="11.35" height="25.7" fill="#fcc6c8" stroke="#6c5252" stroke-width="1"/>
<rect x="339.95" y="327.3" width="10.95" height="26.7" fill="#d60c1c" stroke="#aa0914" stroke-width="1"/>
<rect x="351.5" y="321.1" width="11.35" height="32.9" fill="#fcc6c8" stroke="#6c5252" stroke-width="1"/>
<rect x="369.2" y="321.4" width="10.95" height="32.6" fill="#d60c1c" stroke="#aa0914" stroke-width="1"/>
<rect x="380.75" y="263.6" width="11.35" height="90.4" fill="#fcc6c8" stroke="#6c5252" stroke-width="1"/>
<rect x="244.4" y="330.7" width="150.8" height="3" fill="#fff"/>
<path d="M257.68 346.75V347.45M254.88 346.75H260.48M254.88 347.45H260.48" stroke="#1c1c1c" stroke-width="1.1" fill="none"/>
<path d="M269.62 315.4V320.6M266.82 315.4H272.43M266.82 320.6H272.43" stroke="#1c1c1c" stroke-width="1.1" fill="none"/>
<path d="M286.93 348.25V348.95M284.12 348.25H289.73M284.12 348.95H289.73" stroke="#1c1c1c" stroke-width="1.1" fill="none"/>
<path d="M298.88 318.2V324M296.07 318.2H301.68M296.07 324H301.68" stroke="#1c1c1c" stroke-width="1.1" fill="none"/>
<path d="M316.18 314.9V317.1M313.38 314.9H318.98M313.38 317.1H318.98" stroke="#1c1c1c" stroke-width="1.1" fill="none"/>
<path d="M328.12 327.65V328.35M325.32 327.65H330.93M325.32 328.35H330.93" stroke="#1c1c1c" stroke-width="1.1" fill="none"/>
<path d="M345.43 326.65V327.35M342.62 326.65H348.23M342.62 327.35H348.23" stroke="#1c1c1c" stroke-width="1.1" fill="none"/>
<path d="M357.38 320.45V321.15M354.57 320.45H360.18M354.57 321.15H360.18" stroke="#1c1c1c" stroke-width="1.1" fill="none"/>
<path d="M374.68 320.75V321.45M371.88 320.75H377.48M371.88 321.45H377.48" stroke="#1c1c1c" stroke-width="1.1" fill="none"/>
<path d="M386.62 255.5V271.1M383.82 255.5H389.43M383.82 271.1H389.43" stroke="#1c1c1c" stroke-width="1.1" fill="none"/>
<rect x="244.65" y="209.05" width="150.3" height="144.9" fill="none" stroke="#1a1a1a" stroke-width="1.5"/>
<line x1="244.9" y1="208.8" x2="249.3" y2="208.8" stroke="#1a1a1a" stroke-width="1.2"/>
<text x="239.1" y="212.3" font-size="11.5" text-anchor="end" font-weight="bold" fill="#1a1a1a">5</text>
<line x1="244.9" y1="233.68" x2="249.3" y2="233.68" stroke="#1a1a1a" stroke-width="1.2"/>
<text x="239.1" y="237.18" font-size="11.5" text-anchor="end" font-weight="bold" fill="#1a1a1a">4</text>
<line x1="244.9" y1="258.55" x2="249.3" y2="258.55" stroke="#1a1a1a" stroke-width="1.2"/>
<text x="239.1" y="262.05" font-size="11.5" text-anchor="end" font-weight="bold" fill="#1a1a1a">3</text>
<line x1="244.9" y1="283.43" x2="249.3" y2="283.43" stroke="#1a1a1a" stroke-width="1.2"/>
<text x="239.1" y="286.93" font-size="11.5" text-anchor="end" font-weight="bold" fill="#1a1a1a">2</text>
<line x1="244.9" y1="308.3" x2="249.3" y2="308.3" stroke="#1a1a1a" stroke-width="1.2"/>
<text x="239.1" y="311.8" font-size="11.5" text-anchor="end" font-weight="bold" fill="#1a1a1a">1</text>
<line x1="244.9" y1="337.8" x2="249.3" y2="337.8" stroke="#1a1a1a" stroke-width="1.2"/>
<text x="239.1" y="341.3" font-size="11.5" text-anchor="end" font-weight="bold" fill="#1a1a1a">0.04</text>
<line x1="244.9" y1="345.8" x2="249.3" y2="345.8" stroke="#1a1a1a" stroke-width="1.2"/>
<text x="239.1" y="349.3" font-size="11.5" text-anchor="end" font-weight="bold" fill="#1a1a1a">0.02</text>
<line x1="244.9" y1="353.8" x2="249.3" y2="353.8" stroke="#1a1a1a" stroke-width="1.2"/>
<text x="239.1" y="357.3" font-size="11.5" text-anchor="end" font-weight="bold" fill="#1a1a1a">0.00</text>
<line x1="244.9" y1="221.24" x2="246.8" y2="221.24" stroke="#1a1a1a" stroke-width="1.1"/>
<line x1="244.9" y1="246.11" x2="246.8" y2="246.11" stroke="#1a1a1a" stroke-width="1.1"/>
<line x1="244.9" y1="270.99" x2="246.8" y2="270.99" stroke="#1a1a1a" stroke-width="1.1"/>
<line x1="244.9" y1="295.86" x2="246.8" y2="295.86" stroke="#1a1a1a" stroke-width="1.1"/>
<line x1="244.9" y1="341.8" x2="246.8" y2="341.8" stroke="#1a1a1a" stroke-width="1.1"/>
<line x1="244.9" y1="349.8" x2="246.8" y2="349.8" stroke="#1a1a1a" stroke-width="1.1"/>
<text x="263.35" y="368.5" font-size="11.3" text-anchor="middle" font-weight="bold" fill="#1a1a1a">S1</text>
<line x1="249.02" y1="353.7" x2="249.02" y2="351.1" stroke="#1a1a1a" stroke-width="1.1"/>
<line x1="263.65" y1="353.7" x2="263.65" y2="350.5" stroke="#1a1a1a" stroke-width="1.1"/>
<text x="292.6" y="368.5" font-size="11.3" text-anchor="middle" font-weight="bold" fill="#1a1a1a">S2</text>
<line x1="278.27" y1="353.7" x2="278.27" y2="351.1" stroke="#1a1a1a" stroke-width="1.1"/>
<line x1="292.9" y1="353.7" x2="292.9" y2="350.5" stroke="#1a1a1a" stroke-width="1.1"/>
<text x="321.85" y="368.5" font-size="11.3" text-anchor="middle" font-weight="bold" fill="#1a1a1a">S3</text>
<line x1="307.52" y1="353.7" x2="307.52" y2="351.1" stroke="#1a1a1a" stroke-width="1.1"/>
<line x1="322.15" y1="353.7" x2="322.15" y2="350.5" stroke="#1a1a1a" stroke-width="1.1"/>
<text x="351.1" y="368.5" font-size="11.3" text-anchor="middle" font-weight="bold" fill="#1a1a1a">S4</text>
<line x1="336.77" y1="353.7" x2="336.77" y2="351.1" stroke="#1a1a1a" stroke-width="1.1"/>
<line x1="351.4" y1="353.7" x2="351.4" y2="350.5" stroke="#1a1a1a" stroke-width="1.1"/>
<text x="380.35" y="368.5" font-size="11.3" text-anchor="middle" font-weight="bold" fill="#1a1a1a">S5</text>
<line x1="366.02" y1="353.7" x2="366.02" y2="351.1" stroke="#1a1a1a" stroke-width="1.1"/>
<line x1="380.65" y1="353.7" x2="380.65" y2="350.5" stroke="#1a1a1a" stroke-width="1.1"/>
<rect x="243.1" y="331.2" width="3" height="2" fill="#fff"/>
<line x1="239.9" y1="332.55" x2="249.3" y2="329.55" stroke="#1a1a1a" stroke-width="1.15"/>
<line x1="239.9" y1="334.85" x2="249.3" y2="331.85" stroke="#1a1a1a" stroke-width="1.15"/>
<rect x="393.5" y="331.2" width="3" height="2" fill="#fff"/>
<line x1="390.3" y1="332.55" x2="399.7" y2="329.55" stroke="#1a1a1a" stroke-width="1.15"/>
<line x1="390.3" y1="334.85" x2="399.7" y2="331.85" stroke="#1a1a1a" stroke-width="1.15"/>
<text x="249.5" y="221.9" font-size="12.6" text-anchor="start" font-weight="bold" font-style="italic" fill="#1a1a1a">ScAGL11</text>
<rect x="316.15" y="210.05" width="27.5" height="12.8" fill="#d60c1c" stroke="#aa0914" stroke-width="0.9"/>
<rect x="316.15" y="225.95" width="27.5" height="12.8" fill="#fcc6c8" stroke="#6c5252" stroke-width="0.9"/>
<text x="347.3" y="220.7" font-size="12.5" text-anchor="start" font-weight="bold" fill="#1a1a1a">JeCB-C</text>
<text x="347.3" y="236.6" font-size="12.5" text-anchor="start" font-weight="bold" fill="#1a1a1a">JeCB-W</text>
<path d="M266.55 303.7v5M264.38 304.95l4.33 2.5M264.38 307.45l4.33 -2.5M272.45 303.7v5M270.28 304.95l4.33 2.5M270.28 307.45l4.33 -2.5M295.55 306.5v5M293.38 307.75l4.33 2.5M293.38 310.25l4.33 -2.5M301.45 306.5v5M299.28 307.75l4.33 2.5M299.28 310.25l4.33 -2.5M325.15 316.5v5M322.99 317.75l4.33 2.5M322.99 320.25l4.33 -2.5M331.05 316.5v5M328.88 317.75l4.33 2.5M328.88 320.25l4.33 -2.5M353.95 308.3v5M351.78 309.55l4.33 2.5M351.78 312.05l4.33 -2.5M359.85 308.3v5M357.68 309.55l4.33 2.5M357.68 312.05l4.33 -2.5M383.55 244.1v5M381.38 245.35l4.33 2.5M381.38 247.85l4.33 -2.5M389.45 244.1v5M387.28 245.35l4.33 2.5M387.28 247.85l4.33 -2.5" stroke="#606060" stroke-width="1.2" fill="none"/>
</g>
<g>
<rect x="440.7" y="283.4" width="10.9" height="70.6" fill="#d60c1c" stroke="#aa0914" stroke-width="1"/>
<rect x="452.2" y="319.3" width="11.3" height="34.7" fill="#fcc6c8" stroke="#6c5252" stroke-width="1"/>
<rect x="469.9" y="286.4" width="10.9" height="67.6" fill="#d60c1c" stroke="#aa0914" stroke-width="1"/>
<rect x="481.4" y="322.9" width="11.3" height="31.1" fill="#fcc6c8" stroke="#6c5252" stroke-width="1"/>
<rect x="499.1" y="336.3" width="10.9" height="17.7" fill="#d60c1c" stroke="#aa0914" stroke-width="1"/>
<rect x="510.6" y="352.3" width="11.3" height="1.7" fill="#fcc6c8" stroke="#6c5252" stroke-width="1"/>
<rect x="528.3" y="353.5" width="10.9" height="0.5" fill="#d60c1c" stroke="#aa0914" stroke-width="1"/>
<rect x="539.8" y="345.6" width="11.3" height="8.4" fill="#fcc6c8" stroke="#6c5252" stroke-width="1"/>
<rect x="557.5" y="353.1" width="10.9" height="0.9" fill="#d60c1c" stroke="#aa0914" stroke-width="1"/>
<rect x="569" y="344.5" width="11.3" height="9.5" fill="#fcc6c8" stroke="#6c5252" stroke-width="1"/>
<path d="M446.15 277.8V288.4M443.35 277.8H448.95M443.35 288.4H448.95" stroke="#1c1c1c" stroke-width="1.1" fill="none"/>
<path d="M458.05 317.9V320.1M455.25 317.9H460.85M455.25 320.1H460.85" stroke="#1c1c1c" stroke-width="1.1" fill="none"/>
<path d="M475.35 279.2V293M472.55 279.2H478.15M472.55 293H478.15" stroke="#1c1c1c" stroke-width="1.1" fill="none"/>
<path d="M487.25 320.7V324.5M484.45 320.7H490.05M484.45 324.5H490.05" stroke="#1c1c1c" stroke-width="1.1" fill="none"/>
<path d="M504.55 335.65V336.35M501.75 335.65H507.35M501.75 336.35H507.35" stroke="#1c1c1c" stroke-width="1.1" fill="none"/>
<path d="M516.45 351.65V352.35M513.65 351.65H519.25M513.65 352.35H519.25" stroke="#1c1c1c" stroke-width="1.1" fill="none"/>
<path d="M545.65 342.1V348.5M542.85 342.1H548.45M542.85 348.5H548.45" stroke="#1c1c1c" stroke-width="1.1" fill="none"/>
<path d="M574.85 343.85V344.55M572.05 343.85H577.65M572.05 344.55H577.65" stroke="#1c1c1c" stroke-width="1.1" fill="none"/>
<rect x="433.95" y="209.05" width="149.1" height="144.9" fill="none" stroke="#1a1a1a" stroke-width="1.5"/>
<line x1="434.2" y1="208.8" x2="438.6" y2="208.8" stroke="#1a1a1a" stroke-width="1.2"/>
<text x="428.4" y="212.3" font-size="11.5" text-anchor="end" font-weight="bold" fill="#1a1a1a">0.35</text>
<line x1="434.2" y1="229.51" x2="438.6" y2="229.51" stroke="#1a1a1a" stroke-width="1.2"/>
<text x="428.4" y="233.01" font-size="11.5" text-anchor="end" font-weight="bold" fill="#1a1a1a">0.30</text>
<line x1="434.2" y1="250.23" x2="438.6" y2="250.23" stroke="#1a1a1a" stroke-width="1.2"/>
<text x="428.4" y="253.73" font-size="11.5" text-anchor="end" font-weight="bold" fill="#1a1a1a">0.25</text>
<line x1="434.2" y1="270.94" x2="438.6" y2="270.94" stroke="#1a1a1a" stroke-width="1.2"/>
<text x="428.4" y="274.44" font-size="11.5" text-anchor="end" font-weight="bold" fill="#1a1a1a">0.20</text>
<line x1="434.2" y1="291.66" x2="438.6" y2="291.66" stroke="#1a1a1a" stroke-width="1.2"/>
<text x="428.4" y="295.16" font-size="11.5" text-anchor="end" font-weight="bold" fill="#1a1a1a">0.15</text>
<line x1="434.2" y1="312.37" x2="438.6" y2="312.37" stroke="#1a1a1a" stroke-width="1.2"/>
<text x="428.4" y="315.87" font-size="11.5" text-anchor="end" font-weight="bold" fill="#1a1a1a">0.10</text>
<line x1="434.2" y1="333.09" x2="438.6" y2="333.09" stroke="#1a1a1a" stroke-width="1.2"/>
<text x="428.4" y="336.59" font-size="11.5" text-anchor="end" font-weight="bold" fill="#1a1a1a">0.05</text>
<line x1="434.2" y1="353.8" x2="438.6" y2="353.8" stroke="#1a1a1a" stroke-width="1.2"/>
<text x="428.4" y="357.3" font-size="11.5" text-anchor="end" font-weight="bold" fill="#1a1a1a">0.00</text>
<line x1="434.2" y1="219.16" x2="436.1" y2="219.16" stroke="#1a1a1a" stroke-width="1.1"/>
<line x1="434.2" y1="239.87" x2="436.1" y2="239.87" stroke="#1a1a1a" stroke-width="1.1"/>
<line x1="434.2" y1="260.59" x2="436.1" y2="260.59" stroke="#1a1a1a" stroke-width="1.1"/>
<line x1="434.2" y1="281.3" x2="436.1" y2="281.3" stroke="#1a1a1a" stroke-width="1.1"/>
<line x1="434.2" y1="302.01" x2="436.1" y2="302.01" stroke="#1a1a1a" stroke-width="1.1"/>
<line x1="434.2" y1="322.73" x2="436.1" y2="322.73" stroke="#1a1a1a" stroke-width="1.1"/>
<line x1="434.2" y1="343.44" x2="436.1" y2="343.44" stroke="#1a1a1a" stroke-width="1.1"/>
<text x="451.8" y="368.5" font-size="11.3" text-anchor="middle" font-weight="bold" fill="#1a1a1a">S1</text>
<line x1="437.5" y1="353.7" x2="437.5" y2="351.1" stroke="#1a1a1a" stroke-width="1.1"/>
<line x1="452.1" y1="353.7" x2="452.1" y2="350.5" stroke="#1a1a1a" stroke-width="1.1"/>
<text x="481" y="368.5" font-size="11.3" text-anchor="middle" font-weight="bold" fill="#1a1a1a">S2</text>
<line x1="466.7" y1="353.7" x2="466.7" y2="351.1" stroke="#1a1a1a" stroke-width="1.1"/>
<line x1="481.3" y1="353.7" x2="481.3" y2="350.5" stroke="#1a1a1a" stroke-width="1.1"/>
<text x="510.2" y="368.5" font-size="11.3" text-anchor="middle" font-weight="bold" fill="#1a1a1a">S3</text>
<line x1="495.9" y1="353.7" x2="495.9" y2="351.1" stroke="#1a1a1a" stroke-width="1.1"/>
<line x1="510.5" y1="353.7" x2="510.5" y2="350.5" stroke="#1a1a1a" stroke-width="1.1"/>
<text x="539.4" y="368.5" font-size="11.3" text-anchor="middle" font-weight="bold" fill="#1a1a1a">S4</text>
<line x1="525.1" y1="353.7" x2="525.1" y2="351.1" stroke="#1a1a1a" stroke-width="1.1"/>
<line x1="539.7" y1="353.7" x2="539.7" y2="350.5" stroke="#1a1a1a" stroke-width="1.1"/>
<text x="568.6" y="368.5" font-size="11.3" text-anchor="middle" font-weight="bold" fill="#1a1a1a">S5</text>
<line x1="554.3" y1="353.7" x2="554.3" y2="351.1" stroke="#1a1a1a" stroke-width="1.1"/>
<line x1="568.9" y1="353.7" x2="568.9" y2="350.5" stroke="#1a1a1a" stroke-width="1.1"/>
<text x="436.8" y="221.9" font-size="12.8" text-anchor="start" font-weight="bold" font-style="italic" fill="#1a1a1a">ScbHLH17</text>
<rect x="504.35" y="210.05" width="27.5" height="12.8" fill="#d60c1c" stroke="#aa0914" stroke-width="0.9"/>
<rect x="504.35" y="225.95" width="27.5" height="12.8" fill="#fcc6c8" stroke="#6c5252" stroke-width="0.9"/>
<text x="535.5" y="220.7" font-size="12.5" text-anchor="start" font-weight="bold" fill="#1a1a1a">JeCB-C</text>
<text x="535.5" y="236.6" font-size="12.5" text-anchor="start" font-weight="bold" fill="#1a1a1a">JeCB-W</text>
<path d="M454.75 306.3v5M452.58 307.55l4.33 2.5M452.58 310.05l4.33 -2.5M460.65 306.3v5M458.48 307.55l4.33 2.5M458.48 310.05l4.33 -2.5M483.75 308.8v5M481.58 310.05l4.33 2.5M481.58 312.55l4.33 -2.5M489.65 308.8v5M487.48 310.05l4.33 2.5M487.48 312.55l4.33 -2.5M513.05 341.2v5M510.88 342.45l4.33 2.5M510.88 344.95l4.33 -2.5M518.95 341.2v5M516.79 342.45l4.33 2.5M516.79 344.95l4.33 -2.5M542.15 330.9v5M539.99 332.15l4.33 2.5M539.99 334.65l4.33 -2.5M548.05 330.9v5M545.89 332.15l4.33 2.5M545.89 334.65l4.33 -2.5M571.25 333.3v5M569.09 334.55l4.33 2.5M569.09 337.05l4.33 -2.5M577.15 333.3v5M574.99 334.55l4.33 2.5M574.99 337.05l4.33 -2.5" stroke="#606060" stroke-width="1.2" fill="none"/>
</g>
<g>
<rect x="65.3" y="430.6" width="11" height="103.4" fill="#fcbcc0" stroke="#7a6464" stroke-width="1"/>
<rect x="76.9" y="510.4" width="11.4" height="23.6" fill="#ffffff" stroke="#626262" stroke-width="1"/>
<rect x="94.4" y="429.2" width="11" height="104.8" fill="#fcbcc0" stroke="#7a6464" stroke-width="1"/>
<rect x="106" y="510.2" width="11.4" height="23.8" fill="#ffffff" stroke="#626262" stroke-width="1"/>
<rect x="123.5" y="493.7" width="11" height="40.3" fill="#fcbcc0" stroke="#7a6464" stroke-width="1"/>
<rect x="135.1" y="510.7" width="11.4" height="23.3" fill="#ffffff" stroke="#626262" stroke-width="1"/>
<rect x="152.6" y="498.2" width="11" height="35.8" fill="#fcbcc0" stroke="#7a6464" stroke-width="1"/>
<rect x="164.2" y="511" width="11.4" height="23" fill="#ffffff" stroke="#626262" stroke-width="1"/>
<rect x="181.7" y="509" width="11" height="25" fill="#fcbcc0" stroke="#7a6464" stroke-width="1"/>
<rect x="193.3" y="523.7" width="11.4" height="10.3" fill="#ffffff" stroke="#626262" stroke-width="1"/>
<rect x="57.1" y="510.9" width="150.8" height="3" fill="#fff"/>
<path d="M70.8 422.7V437.9M68 422.7H73.6M68 437.9H73.6" stroke="#1c1c1c" stroke-width="1.1" fill="none"/>
<path d="M82.8 509.75V510.45M80 509.75H85.6M80 510.45H85.6" stroke="#1c1c1c" stroke-width="1.1" fill="none"/>
<path d="M99.9 415.9V441.9M97.1 415.9H102.7M97.1 441.9H102.7" stroke="#1c1c1c" stroke-width="1.1" fill="none"/>
<path d="M111.9 509.55V510.25M109.1 509.55H114.7M109.1 510.25H114.7" stroke="#1c1c1c" stroke-width="1.1" fill="none"/>
<path d="M129 491.4V495.4M126.2 491.4H131.8M126.2 495.4H131.8" stroke="#1c1c1c" stroke-width="1.1" fill="none"/>
<path d="M158.1 497.3V498.5M155.3 497.3H160.9M155.3 498.5H160.9" stroke="#1c1c1c" stroke-width="1.1" fill="none"/>
<path d="M187.2 508.35V509.05M184.4 508.35H190M184.4 509.05H190" stroke="#1c1c1c" stroke-width="1.1" fill="none"/>
<path d="M199.2 514.2V532.6M196.4 514.2H202M196.4 532.6H202" stroke="#1c1c1c" stroke-width="1.1" fill="none"/>
<rect x="57.35" y="387.85" width="150.3" height="146.1" fill="none" stroke="#1a1a1a" stroke-width="1.5"/>
<line x1="57.6" y1="387.9" x2="62" y2="387.9" stroke="#1a1a1a" stroke-width="1.2"/>
<text x="51.8" y="391.4" font-size="11.5" text-anchor="end" font-weight="bold" fill="#1a1a1a">8</text>
<line x1="57.6" y1="403.3" x2="59.5" y2="403.3" stroke="#1a1a1a" stroke-width="1.2"/>
<text x="51.8" y="406.8" font-size="11.5" text-anchor="end" font-weight="bold" fill="#1a1a1a">7</text>
<line x1="57.6" y1="418.7" x2="62" y2="418.7" stroke="#1a1a1a" stroke-width="1.2"/>
<text x="51.8" y="422.2" font-size="11.5" text-anchor="end" font-weight="bold" fill="#1a1a1a">6</text>
<line x1="57.6" y1="434.1" x2="59.5" y2="434.1" stroke="#1a1a1a" stroke-width="1.2"/>
<text x="51.8" y="437.6" font-size="11.5" text-anchor="end" font-weight="bold" fill="#1a1a1a">5</text>
<line x1="57.6" y1="449.5" x2="62" y2="449.5" stroke="#1a1a1a" stroke-width="1.2"/>
<text x="51.8" y="453" font-size="11.5" text-anchor="end" font-weight="bold" fill="#1a1a1a">4</text>
<line x1="57.6" y1="464.9" x2="59.5" y2="464.9" stroke="#1a1a1a" stroke-width="1.2"/>
<text x="51.8" y="468.4" font-size="11.5" text-anchor="end" font-weight="bold" fill="#1a1a1a">3</text>
<line x1="57.6" y1="480.3" x2="62" y2="480.3" stroke="#1a1a1a" stroke-width="1.2"/>
<text x="51.8" y="483.8" font-size="11.5" text-anchor="end" font-weight="bold" fill="#1a1a1a">2</text>
<line x1="57.6" y1="495.7" x2="59.5" y2="495.7" stroke="#1a1a1a" stroke-width="1.2"/>
<text x="51.8" y="499.2" font-size="11.5" text-anchor="end" font-weight="bold" fill="#1a1a1a">1</text>
<line x1="57.6" y1="523.4" x2="62" y2="523.4" stroke="#1a1a1a" stroke-width="1.2"/>
<text x="51.8" y="526.9" font-size="11.5" text-anchor="end" font-weight="bold" fill="#1a1a1a">0.001</text>
<line x1="57.6" y1="533.8" x2="62" y2="533.8" stroke="#1a1a1a" stroke-width="1.2"/>
<text x="51.8" y="537.3" font-size="11.5" text-anchor="end" font-weight="bold" fill="#1a1a1a">0.000</text>
<line x1="57.6" y1="518.2" x2="59.5" y2="518.2" stroke="#1a1a1a" stroke-width="1.1"/>
<line x1="57.6" y1="528.6" x2="59.5" y2="528.6" stroke="#1a1a1a" stroke-width="1.1"/>
<text x="76.5" y="548.5" font-size="11.3" text-anchor="middle" font-weight="bold" fill="#1a1a1a">S1</text>
<line x1="62.25" y1="533.7" x2="62.25" y2="531.1" stroke="#1a1a1a" stroke-width="1.1"/>
<line x1="76.8" y1="533.7" x2="76.8" y2="530.5" stroke="#1a1a1a" stroke-width="1.1"/>
<text x="105.6" y="548.5" font-size="11.3" text-anchor="middle" font-weight="bold" fill="#1a1a1a">S2</text>
<line x1="91.35" y1="533.7" x2="91.35" y2="531.1" stroke="#1a1a1a" stroke-width="1.1"/>
<line x1="105.9" y1="533.7" x2="105.9" y2="530.5" stroke="#1a1a1a" stroke-width="1.1"/>
<text x="134.7" y="548.5" font-size="11.3" text-anchor="middle" font-weight="bold" fill="#1a1a1a">S3</text>
<line x1="120.45" y1="533.7" x2="120.45" y2="531.1" stroke="#1a1a1a" stroke-width="1.1"/>
<line x1="135" y1="533.7" x2="135" y2="530.5" stroke="#1a1a1a" stroke-width="1.1"/>
<text x="163.8" y="548.5" font-size="11.3" text-anchor="middle" font-weight="bold" fill="#1a1a1a">S4</text>
<line x1="149.55" y1="533.7" x2="149.55" y2="531.1" stroke="#1a1a1a" stroke-width="1.1"/>
<line x1="164.1" y1="533.7" x2="164.1" y2="530.5" stroke="#1a1a1a" stroke-width="1.1"/>
<text x="192.9" y="548.5" font-size="11.3" text-anchor="middle" font-weight="bold" fill="#1a1a1a">S5</text>
<line x1="178.65" y1="533.7" x2="178.65" y2="531.1" stroke="#1a1a1a" stroke-width="1.1"/>
<line x1="193.2" y1="533.7" x2="193.2" y2="530.5" stroke="#1a1a1a" stroke-width="1.1"/>
<rect x="55.8" y="511.4" width="3" height="2" fill="#fff"/>
<line x1="52.6" y1="512.75" x2="62" y2="509.75" stroke="#1a1a1a" stroke-width="1.15"/>
<line x1="52.6" y1="515.05" x2="62" y2="512.05" stroke="#1a1a1a" stroke-width="1.15"/>
<rect x="206.2" y="511.4" width="3" height="2" fill="#fff"/>
<line x1="203" y1="512.75" x2="212.4" y2="509.75" stroke="#1a1a1a" stroke-width="1.15"/>
<line x1="203" y1="515.05" x2="212.4" y2="512.05" stroke="#1a1a1a" stroke-width="1.15"/>
<text x="62.4" y="400.7" font-size="12.6" text-anchor="start" font-weight="bold" font-style="italic" fill="#1a1a1a">ScCHS2</text>
<rect x="130.25" y="389.65" width="27.5" height="12.8" fill="#fcbcc0" stroke="#7a6464" stroke-width="0.9"/>
<rect x="130.25" y="405.55" width="27.5" height="12.8" fill="#ffffff" stroke="#626262" stroke-width="0.9"/>
<text x="161.4" y="400.3" font-size="12.5" text-anchor="start" font-weight="bold" fill="#1a1a1a">JePB-C</text>
<text x="161.4" y="416.2" font-size="12.5" text-anchor="start" font-weight="bold" fill="#1a1a1a">JePB-W</text>
<path d="M79.95 500.2v5M77.78 501.45l4.33 2.5M77.78 503.95l4.33 -2.5M85.85 500.2v5M83.69 501.45l4.33 2.5M83.69 503.95l4.33 -2.5M108.75 500.2v5M106.58 501.45l4.33 2.5M106.58 503.95l4.33 -2.5M114.65 500.2v5M112.48 501.45l4.33 2.5M112.48 503.95l4.33 -2.5M137.85 500.2v5M135.69 501.45l4.33 2.5M135.69 503.95l4.33 -2.5M143.75 500.2v5M141.59 501.45l4.33 2.5M141.59 503.95l4.33 -2.5M166.75 501.1v5M164.59 502.35l4.33 2.5M164.59 504.85l4.33 -2.5M172.65 501.1v5M170.48 502.35l4.33 2.5M170.48 504.85l4.33 -2.5M198.5 503.9v5M196.34 505.15l4.33 2.5M196.34 507.65l4.33 -2.5" stroke="#606060" stroke-width="1.2" fill="none"/>
</g>
<g>
<rect x="253.25" y="439.6" width="11" height="94.4" fill="#fcbcc0" stroke="#7a6464" stroke-width="1"/>
<rect x="264.85" y="530.6" width="11.4" height="3.4" fill="#ffffff" stroke="#626262" stroke-width="1"/>
<rect x="282.4" y="430.6" width="11" height="103.4" fill="#fcbcc0" stroke="#7a6464" stroke-width="1"/>
<rect x="294" y="529.8" width="11.4" height="4.2" fill="#ffffff" stroke="#626262" stroke-width="1"/>
<rect x="311.55" y="477.6" width="11" height="56.4" fill="#fcbcc0" stroke="#7a6464" stroke-width="1"/>
<rect x="323.15" y="531.6" width="11.4" height="2.4" fill="#ffffff" stroke="#626262" stroke-width="1"/>
<rect x="340.7" y="508.7" width="11" height="25.3" fill="#fcbcc0" stroke="#7a6464" stroke-width="1"/>
<rect x="352.3" y="532.7" width="11.4" height="1.3" fill="#ffffff" stroke="#626262" stroke-width="1"/>
<rect x="369.85" y="529.8" width="11" height="4.2" fill="#fcbcc0" stroke="#7a6464" stroke-width="1"/>
<rect x="381.45" y="533.9" width="11.4" height="0.1" fill="#ffffff" stroke="#626262" stroke-width="1"/>
<path d="M258.75 417.5V461.1M255.95 417.5H261.55M255.95 461.1H261.55" stroke="#1c1c1c" stroke-width="1.1" fill="none"/>
<path d="M270.75 529.2V531.4M267.95 529.2H273.55M267.95 531.4H273.55" stroke="#1c1c1c" stroke-width="1.1" fill="none"/>
<path d="M287.9 412.7V447.9M285.1 412.7H290.7M285.1 447.9H290.7" stroke="#1c1c1c" stroke-width="1.1" fill="none"/>
<path d="M299.9 527.4V531.6M297.1 527.4H302.7M297.1 531.6H302.7" stroke="#1c1c1c" stroke-width="1.1" fill="none"/>
<path d="M317.05 469.2V485.4M314.25 469.2H319.85M314.25 485.4H319.85" stroke="#1c1c1c" stroke-width="1.1" fill="none"/>
<path d="M329.05 530.9V531.7M326.25 530.9H331.85M326.25 531.7H331.85" stroke="#1c1c1c" stroke-width="1.1" fill="none"/>
<path d="M346.2 502.3V514.5M343.4 502.3H349M343.4 514.5H349" stroke="#1c1c1c" stroke-width="1.1" fill="none"/>
<path d="M358.2 532.05V532.75M355.4 532.05H361M355.4 532.75H361" stroke="#1c1c1c" stroke-width="1.1" fill="none"/>
<path d="M375.35 529.15V529.85M372.55 529.15H378.15M372.55 529.85H378.15" stroke="#1c1c1c" stroke-width="1.1" fill="none"/>
<path d="M387.35 533.25V533.95M384.55 533.25H390.15M384.55 533.95H390.15" stroke="#1c1c1c" stroke-width="1.1" fill="none"/>
<rect x="246.65" y="387.85" width="148.9" height="146.1" fill="none" stroke="#1a1a1a" stroke-width="1.5"/>
<line x1="246.9" y1="387.9" x2="251.3" y2="387.9" stroke="#1a1a1a" stroke-width="1.2"/>
<text x="241.1" y="391.4" font-size="11.5" text-anchor="end" font-weight="bold" fill="#1a1a1a">3.0</text>
<line x1="246.9" y1="412.28" x2="251.3" y2="412.28" stroke="#1a1a1a" stroke-width="1.2"/>
<text x="241.1" y="415.78" font-size="11.5" text-anchor="end" font-weight="bold" fill="#1a1a1a">2.5</text>
<line x1="246.9" y1="436.67" x2="251.3" y2="436.67" stroke="#1a1a1a" stroke-width="1.2"/>
<text x="241.1" y="440.17" font-size="11.5" text-anchor="end" font-weight="bold" fill="#1a1a1a">2.0</text>
<line x1="246.9" y1="461.05" x2="251.3" y2="461.05" stroke="#1a1a1a" stroke-width="1.2"/>
<text x="241.1" y="464.55" font-size="11.5" text-anchor="end" font-weight="bold" fill="#1a1a1a">1.5</text>
<line x1="246.9" y1="485.43" x2="251.3" y2="485.43" stroke="#1a1a1a" stroke-width="1.2"/>
<text x="241.1" y="488.93" font-size="11.5" text-anchor="end" font-weight="bold" fill="#1a1a1a">1.0</text>
<line x1="246.9" y1="509.82" x2="251.3" y2="509.82" stroke="#1a1a1a" stroke-width="1.2"/>
<text x="241.1" y="513.32" font-size="11.5" text-anchor="end" font-weight="bold" fill="#1a1a1a">0.5</text>
<line x1="246.9" y1="534.2" x2="251.3" y2="534.2" stroke="#1a1a1a" stroke-width="1.2"/>
<text x="241.1" y="537.7" font-size="11.5" text-anchor="end" font-weight="bold" fill="#1a1a1a">0.0</text>
<line x1="246.9" y1="400.09" x2="248.8" y2="400.09" stroke="#1a1a1a" stroke-width="1.1"/>
<line x1="246.9" y1="424.47" x2="248.8" y2="424.47" stroke="#1a1a1a" stroke-width="1.1"/>
<line x1="246.9" y1="448.86" x2="248.8" y2="448.86" stroke="#1a1a1a" stroke-width="1.1"/>
<line x1="246.9" y1="473.24" x2="248.8" y2="473.24" stroke="#1a1a1a" stroke-width="1.1"/>
<line x1="246.9" y1="497.62" x2="248.8" y2="497.62" stroke="#1a1a1a" stroke-width="1.1"/>
<line x1="246.9" y1="522.01" x2="248.8" y2="522.01" stroke="#1a1a1a" stroke-width="1.1"/>
<text x="264.45" y="548.5" font-size="11.3" text-anchor="middle" font-weight="bold" fill="#1a1a1a">S1</text>
<line x1="250.18" y1="533.7" x2="250.18" y2="531.1" stroke="#1a1a1a" stroke-width="1.1"/>
<line x1="264.75" y1="533.7" x2="264.75" y2="530.5" stroke="#1a1a1a" stroke-width="1.1"/>
<text x="293.6" y="548.5" font-size="11.3" text-anchor="middle" font-weight="bold" fill="#1a1a1a">S2</text>
<line x1="279.32" y1="533.7" x2="279.32" y2="531.1" stroke="#1a1a1a" stroke-width="1.1"/>
<line x1="293.9" y1="533.7" x2="293.9" y2="530.5" stroke="#1a1a1a" stroke-width="1.1"/>
<text x="322.75" y="548.5" font-size="11.3" text-anchor="middle" font-weight="bold" fill="#1a1a1a">S3</text>
<line x1="308.48" y1="533.7" x2="308.48" y2="531.1" stroke="#1a1a1a" stroke-width="1.1"/>
<line x1="323.05" y1="533.7" x2="323.05" y2="530.5" stroke="#1a1a1a" stroke-width="1.1"/>
<text x="351.9" y="548.5" font-size="11.3" text-anchor="middle" font-weight="bold" fill="#1a1a1a">S4</text>
<line x1="337.62" y1="533.7" x2="337.62" y2="531.1" stroke="#1a1a1a" stroke-width="1.1"/>
<line x1="352.2" y1="533.7" x2="352.2" y2="530.5" stroke="#1a1a1a" stroke-width="1.1"/>
<text x="381.05" y="548.5" font-size="11.3" text-anchor="middle" font-weight="bold" fill="#1a1a1a">S5</text>
<line x1="366.78" y1="533.7" x2="366.78" y2="531.1" stroke="#1a1a1a" stroke-width="1.1"/>
<line x1="381.35" y1="533.7" x2="381.35" y2="530.5" stroke="#1a1a1a" stroke-width="1.1"/>
<text x="249.3" y="400.7" font-size="12.6" text-anchor="start" font-weight="bold" font-style="italic" fill="#1a1a1a">ScF3H1</text>
<rect x="318.55" y="389.75" width="27.5" height="12.8" fill="#fcbcc0" stroke="#7a6464" stroke-width="0.9"/>
<rect x="318.55" y="405.65" width="27.5" height="12.8" fill="#ffffff" stroke="#626262" stroke-width="0.9"/>
<text x="349.7" y="400.4" font-size="12.5" text-anchor="start" font-weight="bold" fill="#1a1a1a">JePB-C</text>
<text x="349.7" y="416.3" font-size="12.5" text-anchor="start" font-weight="bold" fill="#1a1a1a">JePB-W</text>
<path d="M267.35 519.3v5M265.19 520.55l4.33 2.5M265.19 523.05l4.33 -2.5M273.25 519.3v5M271.08 520.55l4.33 2.5M271.08 523.05l4.33 -2.5M296.35 518.3v5M294.19 519.55l4.33 2.5M294.19 522.05l4.33 -2.5M302.25 518.3v5M300.08 519.55l4.33 2.5M300.08 522.05l4.33 -2.5M325.65 519.8v5M323.49 521.05l4.33 2.5M323.49 523.55l4.33 -2.5M331.55 519.8v5M329.38 521.05l4.33 2.5M329.38 523.55l4.33 -2.5M354.75 521.4v5M352.58 522.65l4.33 2.5M352.58 525.15l4.33 -2.5M360.65 521.4v5M358.48 522.65l4.33 2.5M358.48 525.15l4.33 -2.5M383.75 523.2v5M381.58 524.45l4.33 2.5M381.58 526.95l4.33 -2.5M389.65 523.2v5M387.48 524.45l4.33 2.5M387.48 526.95l4.33 -2.5" stroke="#606060" stroke-width="1.2" fill="none"/>
</g>
<g>
<rect x="441" y="421.9" width="11.1" height="112.1" fill="#fcbcc0" stroke="#7a6464" stroke-width="1"/>
<rect x="452.7" y="525.7" width="11.5" height="8.3" fill="#ffffff" stroke="#626262" stroke-width="1"/>
<rect x="470.2" y="433.2" width="11.1" height="100.8" fill="#fcbcc0" stroke="#7a6464" stroke-width="1"/>
<rect x="481.9" y="528.8" width="11.5" height="5.2" fill="#ffffff" stroke="#626262" stroke-width="1"/>
<rect x="499.4" y="478.9" width="11.1" height="55.1" fill="#fcbcc0" stroke="#7a6464" stroke-width="1"/>
<rect x="511.1" y="529.3" width="11.5" height="4.7" fill="#ffffff" stroke="#626262" stroke-width="1"/>
<rect x="528.6" y="486.1" width="11.1" height="47.9" fill="#fcbcc0" stroke="#7a6464" stroke-width="1"/>
<rect x="540.3" y="524.4" width="11.5" height="9.6" fill="#ffffff" stroke="#626262" stroke-width="1"/>
<rect x="557.8" y="501.8" width="11.1" height="32.2" fill="#fcbcc0" stroke="#7a6464" stroke-width="1"/>
<rect x="569.5" y="527.3" width="11.5" height="6.7" fill="#ffffff" stroke="#626262" stroke-width="1"/>
<rect x="433.1" y="488.9" width="151.3" height="3" fill="#fff"/>
<path d="M446.55 413V430.2M443.75 413H449.35M443.75 430.2H449.35" stroke="#1c1c1c" stroke-width="1.1" fill="none"/>
<path d="M458.65 524.8V526M455.85 524.8H461.45M455.85 526H461.45" stroke="#1c1c1c" stroke-width="1.1" fill="none"/>
<path d="M475.75 427.1V438.7M472.95 427.1H478.55M472.95 438.7H478.55" stroke="#1c1c1c" stroke-width="1.1" fill="none"/>
<path d="M487.85 527.6V529.4M485.05 527.6H490.65M485.05 529.4H490.65" stroke="#1c1c1c" stroke-width="1.1" fill="none"/>
<path d="M504.95 476.4V480.8M502.15 476.4H507.75M502.15 480.8H507.75" stroke="#1c1c1c" stroke-width="1.1" fill="none"/>
<path d="M517.05 527.4V530.6M514.25 527.4H519.85M514.25 530.6H519.85" stroke="#1c1c1c" stroke-width="1.1" fill="none"/>
<path d="M534.15 484.8V486.8M531.35 484.8H536.95M531.35 486.8H536.95" stroke="#1c1c1c" stroke-width="1.1" fill="none"/>
<path d="M546.25 521.3V526.9M543.45 521.3H549.05M543.45 526.9H549.05" stroke="#1c1c1c" stroke-width="1.1" fill="none"/>
<path d="M563.35 495.1V507.9M560.55 495.1H566.15M560.55 507.9H566.15" stroke="#1c1c1c" stroke-width="1.1" fill="none"/>
<path d="M575.45 522.6V531.4M572.65 522.6H578.25M572.65 531.4H578.25" stroke="#1c1c1c" stroke-width="1.1" fill="none"/>
<rect x="433.35" y="387.85" width="150.8" height="146.1" fill="none" stroke="#1a1a1a" stroke-width="1.5"/>
<line x1="433.6" y1="387.9" x2="438" y2="387.9" stroke="#1a1a1a" stroke-width="1.2"/>
<text x="427.8" y="391.4" font-size="11.5" text-anchor="end" font-weight="bold" fill="#1a1a1a">10</text>
<line x1="433.6" y1="409.5" x2="438" y2="409.5" stroke="#1a1a1a" stroke-width="1.2"/>
<text x="427.8" y="413" font-size="11.5" text-anchor="end" font-weight="bold" fill="#1a1a1a">8</text>
<line x1="433.6" y1="431.1" x2="438" y2="431.1" stroke="#1a1a1a" stroke-width="1.2"/>
<text x="427.8" y="434.6" font-size="11.5" text-anchor="end" font-weight="bold" fill="#1a1a1a">6</text>
<line x1="433.6" y1="452.7" x2="438" y2="452.7" stroke="#1a1a1a" stroke-width="1.2"/>
<text x="427.8" y="456.2" font-size="11.5" text-anchor="end" font-weight="bold" fill="#1a1a1a">4</text>
<line x1="433.6" y1="474.3" x2="438" y2="474.3" stroke="#1a1a1a" stroke-width="1.2"/>
<text x="427.8" y="477.8" font-size="11.5" text-anchor="end" font-weight="bold" fill="#1a1a1a">2</text>
<line x1="433.6" y1="498.7" x2="438" y2="498.7" stroke="#1a1a1a" stroke-width="1.2"/>
<text x="427.8" y="502.2" font-size="11.5" text-anchor="end" font-weight="bold" fill="#1a1a1a">0.5</text>
<line x1="433.6" y1="505.74" x2="438" y2="505.74" stroke="#1a1a1a" stroke-width="1.2"/>
<text x="427.8" y="509.24" font-size="11.5" text-anchor="end" font-weight="bold" fill="#1a1a1a">0.4</text>
<line x1="433.6" y1="512.78" x2="438" y2="512.78" stroke="#1a1a1a" stroke-width="1.2"/>
<text x="427.8" y="516.28" font-size="11.5" text-anchor="end" font-weight="bold" fill="#1a1a1a">0.3</text>
<line x1="433.6" y1="519.82" x2="438" y2="519.82" stroke="#1a1a1a" stroke-width="1.2"/>
<text x="427.8" y="523.32" font-size="11.5" text-anchor="end" font-weight="bold" fill="#1a1a1a">0.2</text>
<line x1="433.6" y1="526.86" x2="438" y2="526.86" stroke="#1a1a1a" stroke-width="1.2"/>
<text x="427.8" y="530.36" font-size="11.5" text-anchor="end" font-weight="bold" fill="#1a1a1a">0.1</text>
<line x1="433.6" y1="533.9" x2="438" y2="533.9" stroke="#1a1a1a" stroke-width="1.2"/>
<text x="427.8" y="537.4" font-size="11.5" text-anchor="end" font-weight="bold" fill="#1a1a1a">0.0</text>
<line x1="433.6" y1="398.7" x2="435.5" y2="398.7" stroke="#1a1a1a" stroke-width="1.1"/>
<line x1="433.6" y1="420.3" x2="435.5" y2="420.3" stroke="#1a1a1a" stroke-width="1.1"/>
<line x1="433.6" y1="441.9" x2="435.5" y2="441.9" stroke="#1a1a1a" stroke-width="1.1"/>
<line x1="433.6" y1="463.5" x2="435.5" y2="463.5" stroke="#1a1a1a" stroke-width="1.1"/>
<line x1="433.6" y1="495.18" x2="435.5" y2="495.18" stroke="#1a1a1a" stroke-width="1.1"/>
<line x1="433.6" y1="502.22" x2="435.5" y2="502.22" stroke="#1a1a1a" stroke-width="1.1"/>
<line x1="433.6" y1="509.26" x2="435.5" y2="509.26" stroke="#1a1a1a" stroke-width="1.1"/>
<line x1="433.6" y1="516.3" x2="435.5" y2="516.3" stroke="#1a1a1a" stroke-width="1.1"/>
<line x1="433.6" y1="523.34" x2="435.5" y2="523.34" stroke="#1a1a1a" stroke-width="1.1"/>
<line x1="433.6" y1="530.38" x2="435.5" y2="530.38" stroke="#1a1a1a" stroke-width="1.1"/>
<text x="452.3" y="548.5" font-size="11.3" text-anchor="middle" font-weight="bold" fill="#1a1a1a">S1</text>
<line x1="438" y1="533.7" x2="438" y2="531.1" stroke="#1a1a1a" stroke-width="1.1"/>
<line x1="452.6" y1="533.7" x2="452.6" y2="530.5" stroke="#1a1a1a" stroke-width="1.1"/>
<text x="481.5" y="548.5" font-size="11.3" text-anchor="middle" font-weight="bold" fill="#1a1a1a">S2</text>
<line x1="467.2" y1="533.7" x2="467.2" y2="531.1" stroke="#1a1a1a" stroke-width="1.1"/>
<line x1="481.8" y1="533.7" x2="481.8" y2="530.5" stroke="#1a1a1a" stroke-width="1.1"/>
<text x="510.7" y="548.5" font-size="11.3" text-anchor="middle" font-weight="bold" fill="#1a1a1a">S3</text>
<line x1="496.4" y1="533.7" x2="496.4" y2="531.1" stroke="#1a1a1a" stroke-width="1.1"/>
<line x1="511" y1="533.7" x2="511" y2="530.5" stroke="#1a1a1a" stroke-width="1.1"/>
<text x="539.9" y="548.5" font-size="11.3" text-anchor="middle" font-weight="bold" fill="#1a1a1a">S4</text>
<line x1="525.6" y1="533.7" x2="525.6" y2="531.1" stroke="#1a1a1a" stroke-width="1.1"/>
<line x1="540.2" y1="533.7" x2="540.2" y2="530.5" stroke="#1a1a1a" stroke-width="1.1"/>
<text x="569.1" y="548.5" font-size="11.3" text-anchor="middle" font-weight="bold" fill="#1a1a1a">S5</text>
<line x1="554.8" y1="533.7" x2="554.8" y2="531.1" stroke="#1a1a1a" stroke-width="1.1"/>
<line x1="569.4" y1="533.7" x2="569.4" y2="530.5" stroke="#1a1a1a" stroke-width="1.1"/>
<rect x="431.8" y="489.4" width="3" height="2" fill="#fff"/>
<line x1="428.6" y1="490.75" x2="438" y2="487.75" stroke="#1a1a1a" stroke-width="1.15"/>
<line x1="428.6" y1="493.05" x2="438" y2="490.05" stroke="#1a1a1a" stroke-width="1.15"/>
<rect x="582.7" y="489.4" width="3" height="2" fill="#fff"/>
<line x1="579.5" y1="490.75" x2="588.9" y2="487.75" stroke="#1a1a1a" stroke-width="1.15"/>
<line x1="579.5" y1="493.05" x2="588.9" y2="490.05" stroke="#1a1a1a" stroke-width="1.15"/>
<text x="437.6" y="400.7" font-size="12.6" text-anchor="start" font-weight="bold" font-style="italic" fill="#1a1a1a">ScDFR3</text>
<rect x="506.25" y="389.75" width="27.5" height="12.8" fill="#fcbcc0" stroke="#7a6464" stroke-width="0.9"/>
<rect x="506.25" y="405.65" width="27.5" height="12.8" fill="#ffffff" stroke="#626262" stroke-width="0.9"/>
<text x="537.4" y="400.4" font-size="12.5" text-anchor="start" font-weight="bold" fill="#1a1a1a">JePB-C</text>
<text x="537.4" y="416.3" font-size="12.5" text-anchor="start" font-weight="bold" fill="#1a1a1a">JePB-W</text>
<path d="M455.55 514.7v5M453.38 515.95l4.33 2.5M453.38 518.45l4.33 -2.5M461.45 514.7v5M459.28 515.95l4.33 2.5M459.28 518.45l4.33 -2.5M484.85 517.3v5M482.69 518.55l4.33 2.5M482.69 521.05l4.33 -2.5M490.75 517.3v5M488.58 518.55l4.33 2.5M488.58 521.05l4.33 -2.5M513.85 517.3v5M511.68 518.55l4.33 2.5M511.68 521.05l4.33 -2.5M519.75 517.3v5M517.59 518.55l4.33 2.5M517.59 521.05l4.33 -2.5M542.95 511.6v5M540.78 512.85l4.33 2.5M540.78 515.35l4.33 -2.5M548.85 511.6v5M546.69 512.85l4.33 2.5M546.69 515.35l4.33 -2.5M572.25 512.9v5M570.09 514.15l4.33 2.5M570.09 516.65l4.33 -2.5M578.15 512.9v5M575.99 514.15l4.33 2.5M575.99 516.65l4.33 -2.5" stroke="#606060" stroke-width="1.2" fill="none"/>
</g>
<g>
<rect x="628.9" y="417.2" width="10.8" height="116.8" fill="#fcbcc0" stroke="#7a6464" stroke-width="1"/>
<rect x="640.3" y="497.9" width="11.2" height="36.1" fill="#ffffff" stroke="#626262" stroke-width="1"/>
<rect x="658.15" y="451.9" width="10.8" height="82.1" fill="#fcbcc0" stroke="#7a6464" stroke-width="1"/>
<rect x="669.55" y="514.1" width="11.2" height="19.9" fill="#ffffff" stroke="#626262" stroke-width="1"/>
<rect x="687.4" y="462.7" width="10.8" height="71.3" fill="#fcbcc0" stroke="#7a6464" stroke-width="1"/>
<rect x="698.8" y="519" width="11.2" height="15" fill="#ffffff" stroke="#626262" stroke-width="1"/>
<rect x="716.65" y="484.8" width="10.8" height="49.2" fill="#fcbcc0" stroke="#7a6464" stroke-width="1"/>
<rect x="728.05" y="527.5" width="11.2" height="6.5" fill="#ffffff" stroke="#626262" stroke-width="1"/>
<rect x="745.9" y="487.2" width="10.8" height="46.8" fill="#fcbcc0" stroke="#7a6464" stroke-width="1"/>
<rect x="757.3" y="533.5" width="11.2" height="0.5" fill="#ffffff" stroke="#626262" stroke-width="1"/>
<rect x="621.3" y="489.2" width="151" height="3" fill="#fff"/>
<path d="M634.3 408.2V425.6M631.5 408.2H637.1M631.5 425.6H637.1" stroke="#1c1c1c" stroke-width="1.1" fill="none"/>
<path d="M646.1 497V498.2M643.3 497H648.9M643.3 498.2H648.9" stroke="#1c1c1c" stroke-width="1.1" fill="none"/>
<path d="M663.55 445.4V457.8M660.75 445.4H666.35M660.75 457.8H666.35" stroke="#1c1c1c" stroke-width="1.1" fill="none"/>
<path d="M675.35 512.9V514.7M672.55 512.9H678.15M672.55 514.7H678.15" stroke="#1c1c1c" stroke-width="1.1" fill="none"/>
<path d="M692.8 461.8V463M690 461.8H695.6M690 463H695.6" stroke="#1c1c1c" stroke-width="1.1" fill="none"/>
<path d="M704.6 518.1V519.3M701.8 518.1H707.4M701.8 519.3H707.4" stroke="#1c1c1c" stroke-width="1.1" fill="none"/>
<path d="M722.05 484.1V484.9M719.25 484.1H724.85M719.25 484.9H724.85" stroke="#1c1c1c" stroke-width="1.1" fill="none"/>
<path d="M733.85 526.85V527.55M731.05 526.85H736.65M731.05 527.55H736.65" stroke="#1c1c1c" stroke-width="1.1" fill="none"/>
<path d="M751.3 486.55V487.25M748.5 486.55H754.1M748.5 487.25H754.1" stroke="#1c1c1c" stroke-width="1.1" fill="none"/>
<path d="M763.1 532.85V533.55M760.3 532.85H765.9M760.3 533.55H765.9" stroke="#1c1c1c" stroke-width="1.1" fill="none"/>
<rect x="621.55" y="387.85" width="150.5" height="146.1" fill="none" stroke="#1a1a1a" stroke-width="1.5"/>
<line x1="621.8" y1="387.9" x2="626.2" y2="387.9" stroke="#1a1a1a" stroke-width="1.2"/>
<text x="616" y="391.4" font-size="11.5" text-anchor="end" font-weight="bold" fill="#1a1a1a">3.0</text>
<line x1="621.8" y1="404.92" x2="626.2" y2="404.92" stroke="#1a1a1a" stroke-width="1.2"/>
<text x="616" y="408.42" font-size="11.5" text-anchor="end" font-weight="bold" fill="#1a1a1a">2.5</text>
<line x1="621.8" y1="421.94" x2="626.2" y2="421.94" stroke="#1a1a1a" stroke-width="1.2"/>
<text x="616" y="425.44" font-size="11.5" text-anchor="end" font-weight="bold" fill="#1a1a1a">2.0</text>
<line x1="621.8" y1="438.96" x2="626.2" y2="438.96" stroke="#1a1a1a" stroke-width="1.2"/>
<text x="616" y="442.46" font-size="11.5" text-anchor="end" font-weight="bold" fill="#1a1a1a">1.5</text>
<line x1="621.8" y1="455.98" x2="626.2" y2="455.98" stroke="#1a1a1a" stroke-width="1.2"/>
<text x="616" y="459.48" font-size="11.5" text-anchor="end" font-weight="bold" fill="#1a1a1a">1.0</text>
<line x1="621.8" y1="473" x2="626.2" y2="473" stroke="#1a1a1a" stroke-width="1.2"/>
<text x="616" y="476.5" font-size="11.5" text-anchor="end" font-weight="bold" fill="#1a1a1a">0.5</text>
<line x1="621.8" y1="500" x2="626.2" y2="500" stroke="#1a1a1a" stroke-width="1.2"/>
<text x="616" y="503.5" font-size="11.5" text-anchor="end" font-weight="bold" fill="#1a1a1a">0.02</text>
<line x1="621.8" y1="516.95" x2="626.2" y2="516.95" stroke="#1a1a1a" stroke-width="1.2"/>
<text x="616" y="520.45" font-size="11.5" text-anchor="end" font-weight="bold" fill="#1a1a1a">0.01</text>
<line x1="621.8" y1="533.9" x2="626.2" y2="533.9" stroke="#1a1a1a" stroke-width="1.2"/>
<text x="616" y="537.4" font-size="11.5" text-anchor="end" font-weight="bold" fill="#1a1a1a">0.00</text>
<line x1="621.8" y1="396.41" x2="623.7" y2="396.41" stroke="#1a1a1a" stroke-width="1.1"/>
<line x1="621.8" y1="413.43" x2="623.7" y2="413.43" stroke="#1a1a1a" stroke-width="1.1"/>
<line x1="621.8" y1="430.45" x2="623.7" y2="430.45" stroke="#1a1a1a" stroke-width="1.1"/>
<line x1="621.8" y1="447.47" x2="623.7" y2="447.47" stroke="#1a1a1a" stroke-width="1.1"/>
<line x1="621.8" y1="464.49" x2="623.7" y2="464.49" stroke="#1a1a1a" stroke-width="1.1"/>
<line x1="621.8" y1="491.52" x2="623.7" y2="491.52" stroke="#1a1a1a" stroke-width="1.1"/>
<line x1="621.8" y1="508.48" x2="623.7" y2="508.48" stroke="#1a1a1a" stroke-width="1.1"/>
<line x1="621.8" y1="525.42" x2="623.7" y2="525.42" stroke="#1a1a1a" stroke-width="1.1"/>
<text x="639.9" y="548.5" font-size="11.3" text-anchor="middle" font-weight="bold" fill="#1a1a1a">S1</text>
<line x1="625.57" y1="533.7" x2="625.57" y2="531.1" stroke="#1a1a1a" stroke-width="1.1"/>
<line x1="640.2" y1="533.7" x2="640.2" y2="530.5" stroke="#1a1a1a" stroke-width="1.1"/>
<text x="669.15" y="548.5" font-size="11.3" text-anchor="middle" font-weight="bold" fill="#1a1a1a">S2</text>
<line x1="654.82" y1="533.7" x2="654.82" y2="531.1" stroke="#1a1a1a" stroke-width="1.1"/>
<line x1="669.45" y1="533.7" x2="669.45" y2="530.5" stroke="#1a1a1a" stroke-width="1.1"/>
<text x="698.4" y="548.5" font-size="11.3" text-anchor="middle" font-weight="bold" fill="#1a1a1a">S3</text>
<line x1="684.07" y1="533.7" x2="684.07" y2="531.1" stroke="#1a1a1a" stroke-width="1.1"/>
<line x1="698.7" y1="533.7" x2="698.7" y2="530.5" stroke="#1a1a1a" stroke-width="1.1"/>
<text x="727.65" y="548.5" font-size="11.3" text-anchor="middle" font-weight="bold" fill="#1a1a1a">S4</text>
<line x1="713.32" y1="533.7" x2="713.32" y2="531.1" stroke="#1a1a1a" stroke-width="1.1"/>
<line x1="727.95" y1="533.7" x2="727.95" y2="530.5" stroke="#1a1a1a" stroke-width="1.1"/>
<text x="756.9" y="548.5" font-size="11.3" text-anchor="middle" font-weight="bold" fill="#1a1a1a">S5</text>
<line x1="742.57" y1="533.7" x2="742.57" y2="531.1" stroke="#1a1a1a" stroke-width="1.1"/>
<line x1="757.2" y1="533.7" x2="757.2" y2="530.5" stroke="#1a1a1a" stroke-width="1.1"/>
<rect x="620" y="489.7" width="3" height="2" fill="#fff"/>
<line x1="616.8" y1="491.05" x2="626.2" y2="488.05" stroke="#1a1a1a" stroke-width="1.15"/>
<line x1="616.8" y1="493.35" x2="626.2" y2="490.35" stroke="#1a1a1a" stroke-width="1.15"/>
<rect x="770.6" y="489.7" width="3" height="2" fill="#fff"/>
<line x1="767.4" y1="491.05" x2="776.8" y2="488.05" stroke="#1a1a1a" stroke-width="1.15"/>
<line x1="767.4" y1="493.35" x2="776.8" y2="490.35" stroke="#1a1a1a" stroke-width="1.15"/>
<text x="626.2" y="400.7" font-size="12.6" text-anchor="start" font-weight="bold" font-style="italic" fill="#1a1a1a">ScANS</text>
<rect x="694.15" y="389.65" width="27.5" height="12.8" fill="#fcbcc0" stroke="#7a6464" stroke-width="0.9"/>
<rect x="694.15" y="405.55" width="27.5" height="12.8" fill="#ffffff" stroke="#626262" stroke-width="0.9"/>
<text x="725.3" y="400.3" font-size="12.5" text-anchor="start" font-weight="bold" fill="#1a1a1a">JePB-C</text>
<text x="725.3" y="416.2" font-size="12.5" text-anchor="start" font-weight="bold" fill="#1a1a1a">JePB-W</text>
<path d="M643.45 486.7v5M641.28 487.95l4.33 2.5M641.28 490.45l4.33 -2.5M649.35 486.7v5M647.19 487.95l4.33 2.5M647.19 490.45l4.33 -2.5M672.75 503.4v5M670.59 504.65l4.33 2.5M670.59 507.15l4.33 -2.5M678.65 503.4v5M676.49 504.65l4.33 2.5M676.49 507.15l4.33 -2.5M701.75 508.3v5M699.59 509.55l4.33 2.5M699.59 512.05l4.33 -2.5M707.65 508.3v5M705.49 509.55l4.33 2.5M705.49 512.05l4.33 -2.5M731.05 517.5v5M728.88 518.75l4.33 2.5M728.88 521.25l4.33 -2.5M736.95 517.5v5M734.79 518.75l4.33 2.5M734.79 521.25l4.33 -2.5M760.65 523.2v5M758.49 524.45l4.33 2.5M758.49 526.95l4.33 -2.5M766.55 523.2v5M764.39 524.45l4.33 2.5M764.39 526.95l4.33 -2.5" stroke="#606060" stroke-width="1.2" fill="none"/>
</g>
<g>
<rect x="65" y="698.6" width="10.85" height="2.5" fill="#fcbcc0" stroke="#7a6464" stroke-width="1"/>
<rect x="76.45" y="580.9" width="11.25" height="120.2" fill="#ffffff" stroke="#626262" stroke-width="1"/>
<rect x="94.22" y="698" width="10.85" height="3.1" fill="#fcbcc0" stroke="#7a6464" stroke-width="1"/>
<rect x="105.67" y="621.4" width="11.25" height="79.7" fill="#ffffff" stroke="#626262" stroke-width="1"/>
<rect x="123.44" y="693.5" width="10.85" height="7.6" fill="#fcbcc0" stroke="#7a6464" stroke-width="1"/>
<rect x="134.89" y="650.2" width="11.25" height="50.9" fill="#ffffff" stroke="#626262" stroke-width="1"/>
<rect x="152.66" y="697.7" width="10.85" height="3.4" fill="#fcbcc0" stroke="#7a6464" stroke-width="1"/>
<rect x="164.11" y="670" width="11.25" height="31.1" fill="#ffffff" stroke="#626262" stroke-width="1"/>
<rect x="181.88" y="697.7" width="10.85" height="3.4" fill="#fcbcc0" stroke="#7a6464" stroke-width="1"/>
<rect x="193.33" y="679.1" width="11.25" height="22" fill="#ffffff" stroke="#626262" stroke-width="1"/>
<rect x="56.9" y="670.4" width="151" height="3" fill="#fff"/>
<path d="M70.42 697.95V698.65M67.62 697.95H73.22M67.62 698.65H73.22" stroke="#1c1c1c" stroke-width="1.1" fill="none"/>
<path d="M82.28 579.6V581.6M79.48 579.6H85.08M79.48 581.6H85.08" stroke="#1c1c1c" stroke-width="1.1" fill="none"/>
<path d="M99.64 697.35V698.05M96.84 697.35H102.44M96.84 698.05H102.44" stroke="#1c1c1c" stroke-width="1.1" fill="none"/>
<path d="M111.5 619.2V623M108.7 619.2H114.3M108.7 623H114.3" stroke="#1c1c1c" stroke-width="1.1" fill="none"/>
<path d="M128.87 692.85V693.55M126.07 692.85H131.67M126.07 693.55H131.67" stroke="#1c1c1c" stroke-width="1.1" fill="none"/>
<path d="M140.72 649.2V650.6M137.91 649.2H143.52M137.91 650.6H143.52" stroke="#1c1c1c" stroke-width="1.1" fill="none"/>
<path d="M158.09 697.05V697.75M155.28 697.05H160.89M155.28 697.75H160.89" stroke="#1c1c1c" stroke-width="1.1" fill="none"/>
<path d="M169.94 669.35V670.05M167.13 669.35H172.74M167.13 670.05H172.74" stroke="#1c1c1c" stroke-width="1.1" fill="none"/>
<path d="M187.31 694.7V700.1M184.5 694.7H190.11M184.5 700.1H190.11" stroke="#1c1c1c" stroke-width="1.1" fill="none"/>
<path d="M199.16 674.5V683.1M196.35 674.5H201.96M196.35 683.1H201.96" stroke="#1c1c1c" stroke-width="1.1" fill="none"/>
<rect x="57.15" y="555.55" width="150.5" height="145.5" fill="none" stroke="#1a1a1a" stroke-width="1.5"/>
<line x1="57.4" y1="555.9" x2="61.8" y2="555.9" stroke="#1a1a1a" stroke-width="1.2"/>
<text x="51.6" y="559.4" font-size="11.5" text-anchor="end" font-weight="bold" fill="#1a1a1a">0.20</text>
<line x1="57.4" y1="567.86" x2="61.8" y2="567.86" stroke="#1a1a1a" stroke-width="1.2"/>
<text x="51.6" y="571.36" font-size="11.5" text-anchor="end" font-weight="bold" fill="#1a1a1a">0.18</text>
<line x1="57.4" y1="579.81" x2="61.8" y2="579.81" stroke="#1a1a1a" stroke-width="1.2"/>
<text x="51.6" y="583.31" font-size="11.5" text-anchor="end" font-weight="bold" fill="#1a1a1a">0.16</text>
<line x1="57.4" y1="591.77" x2="61.8" y2="591.77" stroke="#1a1a1a" stroke-width="1.2"/>
<text x="51.6" y="595.27" font-size="11.5" text-anchor="end" font-weight="bold" fill="#1a1a1a">0.14</text>
<line x1="57.4" y1="603.72" x2="61.8" y2="603.72" stroke="#1a1a1a" stroke-width="1.2"/>
<text x="51.6" y="607.22" font-size="11.5" text-anchor="end" font-weight="bold" fill="#1a1a1a">0.12</text>
<line x1="57.4" y1="615.68" x2="61.8" y2="615.68" stroke="#1a1a1a" stroke-width="1.2"/>
<text x="51.6" y="619.18" font-size="11.5" text-anchor="end" font-weight="bold" fill="#1a1a1a">0.10</text>
<line x1="57.4" y1="627.63" x2="61.8" y2="627.63" stroke="#1a1a1a" stroke-width="1.2"/>
<text x="51.6" y="631.13" font-size="11.5" text-anchor="end" font-weight="bold" fill="#1a1a1a">0.08</text>
<line x1="57.4" y1="639.59" x2="61.8" y2="639.59" stroke="#1a1a1a" stroke-width="1.2"/>
<text x="51.6" y="643.09" font-size="11.5" text-anchor="end" font-weight="bold" fill="#1a1a1a">0.06</text>
<line x1="57.4" y1="651.54" x2="61.8" y2="651.54" stroke="#1a1a1a" stroke-width="1.2"/>
<text x="51.6" y="655.04" font-size="11.5" text-anchor="end" font-weight="bold" fill="#1a1a1a">0.04</text>
<line x1="57.4" y1="663.5" x2="61.8" y2="663.5" stroke="#1a1a1a" stroke-width="1.2"/>
<text x="51.6" y="667" font-size="11.5" text-anchor="end" font-weight="bold" fill="#1a1a1a">0.02</text>
<line x1="57.4" y1="677.3" x2="61.8" y2="677.3" stroke="#1a1a1a" stroke-width="1.2"/>
<text x="51.6" y="680.8" font-size="11.5" text-anchor="end" font-weight="bold" fill="#1a1a1a">0.006</text>
<line x1="57.4" y1="685.22" x2="61.8" y2="685.22" stroke="#1a1a1a" stroke-width="1.2"/>
<text x="51.6" y="688.72" font-size="11.5" text-anchor="end" font-weight="bold" fill="#1a1a1a">0.004</text>
<line x1="57.4" y1="693.13" x2="61.8" y2="693.13" stroke="#1a1a1a" stroke-width="1.2"/>
<text x="51.6" y="696.63" font-size="11.5" text-anchor="end" font-weight="bold" fill="#1a1a1a">0.002</text>
<line x1="57.4" y1="701.05" x2="61.8" y2="701.05" stroke="#1a1a1a" stroke-width="1.2"/>
<text x="51.6" y="704.55" font-size="11.5" text-anchor="end" font-weight="bold" fill="#1a1a1a">0.000</text>
<line x1="57.4" y1="673.34" x2="59.3" y2="673.34" stroke="#1a1a1a" stroke-width="1.1"/>
<line x1="57.4" y1="681.26" x2="59.3" y2="681.26" stroke="#1a1a1a" stroke-width="1.1"/>
<line x1="57.4" y1="689.17" x2="59.3" y2="689.17" stroke="#1a1a1a" stroke-width="1.1"/>
<line x1="57.4" y1="697.09" x2="59.3" y2="697.09" stroke="#1a1a1a" stroke-width="1.1"/>
<line x1="57.4" y1="669.48" x2="59.3" y2="669.48" stroke="#1a1a1a" stroke-width="1.1"/>
<text x="76.05" y="715.6" font-size="11.3" text-anchor="middle" font-weight="bold" fill="#1a1a1a">S1</text>
<line x1="61.74" y1="700.8" x2="61.74" y2="698.2" stroke="#1a1a1a" stroke-width="1.1"/>
<line x1="76.35" y1="700.8" x2="76.35" y2="697.6" stroke="#1a1a1a" stroke-width="1.1"/>
<text x="105.27" y="715.6" font-size="11.3" text-anchor="middle" font-weight="bold" fill="#1a1a1a">S2</text>
<line x1="90.96" y1="700.8" x2="90.96" y2="698.2" stroke="#1a1a1a" stroke-width="1.1"/>
<line x1="105.57" y1="700.8" x2="105.57" y2="697.6" stroke="#1a1a1a" stroke-width="1.1"/>
<text x="134.49" y="715.6" font-size="11.3" text-anchor="middle" font-weight="bold" fill="#1a1a1a">S3</text>
<line x1="120.18" y1="700.8" x2="120.18" y2="698.2" stroke="#1a1a1a" stroke-width="1.1"/>
<line x1="134.79" y1="700.8" x2="134.79" y2="697.6" stroke="#1a1a1a" stroke-width="1.1"/>
<text x="163.71" y="715.6" font-size="11.3" text-anchor="middle" font-weight="bold" fill="#1a1a1a">S4</text>
<line x1="149.4" y1="700.8" x2="149.4" y2="698.2" stroke="#1a1a1a" stroke-width="1.1"/>
<line x1="164.01" y1="700.8" x2="164.01" y2="697.6" stroke="#1a1a1a" stroke-width="1.1"/>
<text x="192.93" y="715.6" font-size="11.3" text-anchor="middle" font-weight="bold" fill="#1a1a1a">S5</text>
<line x1="178.62" y1="700.8" x2="178.62" y2="698.2" stroke="#1a1a1a" stroke-width="1.1"/>
<line x1="193.23" y1="700.8" x2="193.23" y2="697.6" stroke="#1a1a1a" stroke-width="1.1"/>
<rect x="55.6" y="670.9" width="3" height="2" fill="#fff"/>
<line x1="52.4" y1="672.25" x2="61.8" y2="669.25" stroke="#1a1a1a" stroke-width="1.15"/>
<line x1="52.4" y1="674.55" x2="61.8" y2="671.55" stroke="#1a1a1a" stroke-width="1.15"/>
<rect x="206.2" y="670.9" width="3" height="2" fill="#fff"/>
<line x1="203" y1="672.25" x2="212.4" y2="669.25" stroke="#1a1a1a" stroke-width="1.15"/>
<line x1="203" y1="674.55" x2="212.4" y2="671.55" stroke="#1a1a1a" stroke-width="1.15"/>
<text x="62.4" y="568.4" font-size="12.6" text-anchor="start" font-weight="bold" font-style="italic" fill="#1a1a1a">ScAG</text>
<rect x="129.25" y="556.45" width="27.5" height="12.8" fill="#fcbcc0" stroke="#7a6464" stroke-width="0.9"/>
<rect x="129.25" y="572.35" width="27.5" height="12.8" fill="#ffffff" stroke="#626262" stroke-width="0.9"/>
<text x="160.4" y="567.1" font-size="12.5" text-anchor="start" font-weight="bold" fill="#1a1a1a">JePB-C</text>
<text x="160.4" y="583" font-size="12.5" text-anchor="start" font-weight="bold" fill="#1a1a1a">JePB-W</text>
<path d="M79.95 569.9v5M77.78 571.15l4.33 2.5M77.78 573.65l4.33 -2.5M85.85 569.9v5M83.69 571.15l4.33 2.5M83.69 573.65l4.33 -2.5M108.75 610.1v5M106.58 611.35l4.33 2.5M106.58 613.85l4.33 -2.5M114.65 610.1v5M112.48 611.35l4.33 2.5M112.48 613.85l4.33 -2.5M137.85 638.6v5M135.69 639.85l4.33 2.5M135.69 642.35l4.33 -2.5M143.75 638.6v5M141.59 639.85l4.33 2.5M141.59 642.35l4.33 -2.5M166.15 658.2v5M163.99 659.45l4.33 2.5M163.99 661.95l4.33 -2.5M172.05 658.2v5M169.88 659.45l4.33 2.5M169.88 661.95l4.33 -2.5M199.1 664.1v5M196.94 665.35l4.33 2.5M196.94 667.85l4.33 -2.5" stroke="#606060" stroke-width="1.2" fill="none"/>
</g>
<g>
<rect x="253.25" y="685.5" width="11" height="15.6" fill="#fcbcc0" stroke="#7a6464" stroke-width="1"/>
<rect x="264.85" y="648.2" width="11.4" height="52.9" fill="#ffffff" stroke="#626262" stroke-width="1"/>
<rect x="282.4" y="690.6" width="11" height="10.5" fill="#fcbcc0" stroke="#7a6464" stroke-width="1"/>
<rect x="294" y="616.1" width="11.4" height="85" fill="#ffffff" stroke="#626262" stroke-width="1"/>
<rect x="311.55" y="688.6" width="11" height="12.5" fill="#fcbcc0" stroke="#7a6464" stroke-width="1"/>
<rect x="323.15" y="672.1" width="11.4" height="29" fill="#ffffff" stroke="#626262" stroke-width="1"/>
<rect x="340.7" y="693.7" width="11" height="7.4" fill="#fcbcc0" stroke="#7a6464" stroke-width="1"/>
<rect x="352.3" y="694.2" width="11.4" height="6.9" fill="#ffffff" stroke="#626262" stroke-width="1"/>
<rect x="369.85" y="700.7" width="11" height="0.4" fill="#fcbcc0" stroke="#7a6464" stroke-width="1"/>
<rect x="381.45" y="697.1" width="11.4" height="4" fill="#ffffff" stroke="#626262" stroke-width="1"/>
<path d="M258.75 684.85V685.55M255.95 684.85H261.55M255.95 685.55H261.55" stroke="#1c1c1c" stroke-width="1.1" fill="none"/>
<path d="M270.75 645.9V649.9M267.95 645.9H273.55M267.95 649.9H273.55" stroke="#1c1c1c" stroke-width="1.1" fill="none"/>
<path d="M287.9 689.95V690.65M285.1 689.95H290.7M285.1 690.65H290.7" stroke="#1c1c1c" stroke-width="1.1" fill="none"/>
<path d="M299.9 614.9V616.7M297.1 614.9H302.7M297.1 616.7H302.7" stroke="#1c1c1c" stroke-width="1.1" fill="none"/>
<path d="M317.05 687.95V688.65M314.25 687.95H319.85M314.25 688.65H319.85" stroke="#1c1c1c" stroke-width="1.1" fill="none"/>
<path d="M329.05 671.45V672.15M326.25 671.45H331.85M326.25 672.15H331.85" stroke="#1c1c1c" stroke-width="1.1" fill="none"/>
<path d="M346.2 693.05V693.75M343.4 693.05H349M343.4 693.75H349" stroke="#1c1c1c" stroke-width="1.1" fill="none"/>
<path d="M358.2 693.55V694.25M355.4 693.55H361M355.4 694.25H361" stroke="#1c1c1c" stroke-width="1.1" fill="none"/>
<path d="M387.35 695.9V697.7M384.55 695.9H390.15M384.55 697.7H390.15" stroke="#1c1c1c" stroke-width="1.1" fill="none"/>
<rect x="246.65" y="555.95" width="148.9" height="145.1" fill="none" stroke="#1a1a1a" stroke-width="1.5"/>
<line x1="246.9" y1="568" x2="251.3" y2="568" stroke="#1a1a1a" stroke-width="1.2"/>
<text x="241.1" y="571.5" font-size="11.5" text-anchor="end" font-weight="bold" fill="#1a1a1a">1.0</text>
<line x1="246.9" y1="594.62" x2="251.3" y2="594.62" stroke="#1a1a1a" stroke-width="1.2"/>
<text x="241.1" y="598.12" font-size="11.5" text-anchor="end" font-weight="bold" fill="#1a1a1a">0.8</text>
<line x1="246.9" y1="621.24" x2="251.3" y2="621.24" stroke="#1a1a1a" stroke-width="1.2"/>
<text x="241.1" y="624.74" font-size="11.5" text-anchor="end" font-weight="bold" fill="#1a1a1a">0.6</text>
<line x1="246.9" y1="647.86" x2="251.3" y2="647.86" stroke="#1a1a1a" stroke-width="1.2"/>
<text x="241.1" y="651.36" font-size="11.5" text-anchor="end" font-weight="bold" fill="#1a1a1a">0.4</text>
<line x1="246.9" y1="674.48" x2="251.3" y2="674.48" stroke="#1a1a1a" stroke-width="1.2"/>
<text x="241.1" y="677.98" font-size="11.5" text-anchor="end" font-weight="bold" fill="#1a1a1a">0.2</text>
<line x1="246.9" y1="701.1" x2="251.3" y2="701.1" stroke="#1a1a1a" stroke-width="1.2"/>
<text x="241.1" y="704.6" font-size="11.5" text-anchor="end" font-weight="bold" fill="#1a1a1a">0.0</text>
<line x1="246.9" y1="581.31" x2="248.8" y2="581.31" stroke="#1a1a1a" stroke-width="1.1"/>
<line x1="246.9" y1="607.93" x2="248.8" y2="607.93" stroke="#1a1a1a" stroke-width="1.1"/>
<line x1="246.9" y1="634.55" x2="248.8" y2="634.55" stroke="#1a1a1a" stroke-width="1.1"/>
<line x1="246.9" y1="661.17" x2="248.8" y2="661.17" stroke="#1a1a1a" stroke-width="1.1"/>
<line x1="246.9" y1="687.79" x2="248.8" y2="687.79" stroke="#1a1a1a" stroke-width="1.1"/>
<text x="264.45" y="715.6" font-size="11.3" text-anchor="middle" font-weight="bold" fill="#1a1a1a">S1</text>
<line x1="250.18" y1="700.8" x2="250.18" y2="698.2" stroke="#1a1a1a" stroke-width="1.1"/>
<line x1="264.75" y1="700.8" x2="264.75" y2="697.6" stroke="#1a1a1a" stroke-width="1.1"/>
<text x="293.6" y="715.6" font-size="11.3" text-anchor="middle" font-weight="bold" fill="#1a1a1a">S2</text>
<line x1="279.32" y1="700.8" x2="279.32" y2="698.2" stroke="#1a1a1a" stroke-width="1.1"/>
<line x1="293.9" y1="700.8" x2="293.9" y2="697.6" stroke="#1a1a1a" stroke-width="1.1"/>
<text x="322.75" y="715.6" font-size="11.3" text-anchor="middle" font-weight="bold" fill="#1a1a1a">S3</text>
<line x1="308.48" y1="700.8" x2="308.48" y2="698.2" stroke="#1a1a1a" stroke-width="1.1"/>
<line x1="323.05" y1="700.8" x2="323.05" y2="697.6" stroke="#1a1a1a" stroke-width="1.1"/>
<text x="351.9" y="715.6" font-size="11.3" text-anchor="middle" font-weight="bold" fill="#1a1a1a">S4</text>
<line x1="337.62" y1="700.8" x2="337.62" y2="698.2" stroke="#1a1a1a" stroke-width="1.1"/>
<line x1="352.2" y1="700.8" x2="352.2" y2="697.6" stroke="#1a1a1a" stroke-width="1.1"/>
<text x="381.05" y="715.6" font-size="11.3" text-anchor="middle" font-weight="bold" fill="#1a1a1a">S5</text>
<line x1="366.78" y1="700.8" x2="366.78" y2="698.2" stroke="#1a1a1a" stroke-width="1.1"/>
<line x1="381.35" y1="700.8" x2="381.35" y2="697.6" stroke="#1a1a1a" stroke-width="1.1"/>
<text x="249.7" y="568.8" font-size="12.6" text-anchor="start" font-weight="bold" font-style="italic" fill="#1a1a1a">ScAGL11</text>
<rect x="317.95" y="556.95" width="27.5" height="12.8" fill="#fcbcc0" stroke="#7a6464" stroke-width="0.9"/>
<rect x="317.95" y="572.85" width="27.5" height="12.8" fill="#ffffff" stroke="#626262" stroke-width="0.9"/>
<text x="349.1" y="567.6" font-size="12.5" text-anchor="start" font-weight="bold" fill="#1a1a1a">JePB-C</text>
<text x="349.1" y="583.5" font-size="12.5" text-anchor="start" font-weight="bold" fill="#1a1a1a">JePB-W</text>
<path d="M267.35 635.4v5M265.19 636.65l4.33 2.5M265.19 639.15l4.33 -2.5M273.25 635.4v5M271.08 636.65l4.33 2.5M271.08 639.15l4.33 -2.5M296.35 604.5v5M294.19 605.75l4.33 2.5M294.19 608.25l4.33 -2.5M302.25 604.5v5M300.08 605.75l4.33 2.5M300.08 608.25l4.33 -2.5M325.65 660.3v5M323.49 661.55l4.33 2.5M323.49 664.05l4.33 -2.5M331.55 660.3v5M329.38 661.55l4.33 2.5M329.38 664.05l4.33 -2.5M384.25 686v5M382.08 687.25l4.33 2.5M382.08 689.75l4.33 -2.5M390.15 686v5M387.98 687.25l4.33 2.5M387.98 689.75l4.33 -2.5" stroke="#606060" stroke-width="1.2" fill="none"/>
</g>
<g>
<rect x="441" y="590.4" width="11.1" height="110.8" fill="#fcbcc0" stroke="#7a6464" stroke-width="1"/>
<rect x="452.7" y="696.5" width="11.5" height="4.7" fill="#ffffff" stroke="#626262" stroke-width="1"/>
<rect x="470.2" y="626.4" width="11.1" height="74.8" fill="#fcbcc0" stroke="#7a6464" stroke-width="1"/>
<rect x="481.9" y="688.8" width="11.5" height="12.4" fill="#ffffff" stroke="#626262" stroke-width="1"/>
<rect x="499.4" y="645.4" width="11.1" height="55.8" fill="#fcbcc0" stroke="#7a6464" stroke-width="1"/>
<rect x="511.1" y="687.8" width="11.5" height="13.4" fill="#ffffff" stroke="#626262" stroke-width="1"/>
<rect x="528.6" y="684.7" width="11.1" height="16.5" fill="#fcbcc0" stroke="#7a6464" stroke-width="1"/>
<rect x="540.3" y="692.4" width="11.5" height="8.8" fill="#ffffff" stroke="#626262" stroke-width="1"/>
<rect x="557.8" y="689.9" width="11.1" height="11.3" fill="#fcbcc0" stroke="#7a6464" stroke-width="1"/>
<rect x="569.5" y="698.1" width="11.5" height="3.1" fill="#ffffff" stroke="#626262" stroke-width="1"/>
<path d="M446.55 580.6V599.6M443.75 580.6H449.35M443.75 599.6H449.35" stroke="#1c1c1c" stroke-width="1.1" fill="none"/>
<path d="M458.65 695.85V696.55M455.85 695.85H461.45M455.85 696.55H461.45" stroke="#1c1c1c" stroke-width="1.1" fill="none"/>
<path d="M475.75 618.8V633.4M472.95 618.8H478.55M472.95 633.4H478.55" stroke="#1c1c1c" stroke-width="1.1" fill="none"/>
<path d="M487.85 687.7V689.3M485.05 687.7H490.65M485.05 689.3H490.65" stroke="#1c1c1c" stroke-width="1.1" fill="none"/>
<path d="M504.95 644.75V645.45M502.15 644.75H507.75M502.15 645.45H507.75" stroke="#1c1c1c" stroke-width="1.1" fill="none"/>
<path d="M517.05 687.15V687.85M514.25 687.15H519.85M514.25 687.85H519.85" stroke="#1c1c1c" stroke-width="1.1" fill="none"/>
<path d="M534.15 683.8V685M531.35 683.8H536.95M531.35 685H536.95" stroke="#1c1c1c" stroke-width="1.1" fill="none"/>
<path d="M546.25 691.2V693M543.45 691.2H549.05M543.45 693H549.05" stroke="#1c1c1c" stroke-width="1.1" fill="none"/>
<path d="M563.35 689.25V689.95M560.55 689.25H566.15M560.55 689.95H566.15" stroke="#1c1c1c" stroke-width="1.1" fill="none"/>
<path d="M575.45 697.45V698.15M572.65 697.45H578.25M572.65 698.15H578.25" stroke="#1c1c1c" stroke-width="1.1" fill="none"/>
<rect x="433.35" y="555.95" width="150.8" height="145.2" fill="none" stroke="#1a1a1a" stroke-width="1.5"/>
<line x1="433.6" y1="555.9" x2="438" y2="555.9" stroke="#1a1a1a" stroke-width="1.2"/>
<text x="427.8" y="559.4" font-size="11.5" text-anchor="end" font-weight="bold" fill="#1a1a1a">1.0</text>
<line x1="433.6" y1="570.45" x2="438" y2="570.45" stroke="#1a1a1a" stroke-width="1.2"/>
<text x="427.8" y="573.95" font-size="11.5" text-anchor="end" font-weight="bold" fill="#1a1a1a">0.9</text>
<line x1="433.6" y1="585" x2="438" y2="585" stroke="#1a1a1a" stroke-width="1.2"/>
<text x="427.8" y="588.5" font-size="11.5" text-anchor="end" font-weight="bold" fill="#1a1a1a">0.8</text>
<line x1="433.6" y1="599.55" x2="438" y2="599.55" stroke="#1a1a1a" stroke-width="1.2"/>
<text x="427.8" y="603.05" font-size="11.5" text-anchor="end" font-weight="bold" fill="#1a1a1a">0.7</text>
<line x1="433.6" y1="614.1" x2="438" y2="614.1" stroke="#1a1a1a" stroke-width="1.2"/>
<text x="427.8" y="617.6" font-size="11.5" text-anchor="end" font-weight="bold" fill="#1a1a1a">0.6</text>
<line x1="433.6" y1="628.65" x2="438" y2="628.65" stroke="#1a1a1a" stroke-width="1.2"/>
<text x="427.8" y="632.15" font-size="11.5" text-anchor="end" font-weight="bold" fill="#1a1a1a">0.5</text>
<line x1="433.6" y1="643.2" x2="438" y2="643.2" stroke="#1a1a1a" stroke-width="1.2"/>
<text x="427.8" y="646.7" font-size="11.5" text-anchor="end" font-weight="bold" fill="#1a1a1a">0.4</text>
<line x1="433.6" y1="657.75" x2="438" y2="657.75" stroke="#1a1a1a" stroke-width="1.2"/>
<text x="427.8" y="661.25" font-size="11.5" text-anchor="end" font-weight="bold" fill="#1a1a1a">0.3</text>
<line x1="433.6" y1="672.3" x2="438" y2="672.3" stroke="#1a1a1a" stroke-width="1.2"/>
<text x="427.8" y="675.8" font-size="11.5" text-anchor="end" font-weight="bold" fill="#1a1a1a">0.2</text>
<line x1="433.6" y1="686.85" x2="438" y2="686.85" stroke="#1a1a1a" stroke-width="1.2"/>
<text x="427.8" y="690.35" font-size="11.5" text-anchor="end" font-weight="bold" fill="#1a1a1a">0.1</text>
<line x1="433.6" y1="701.4" x2="438" y2="701.4" stroke="#1a1a1a" stroke-width="1.2"/>
<text x="427.8" y="704.9" font-size="11.5" text-anchor="end" font-weight="bold" fill="#1a1a1a">0.0</text>
<line x1="433.6" y1="694.12" x2="435.5" y2="694.12" stroke="#1a1a1a" stroke-width="1.1"/>
<line x1="433.6" y1="679.57" x2="435.5" y2="679.57" stroke="#1a1a1a" stroke-width="1.1"/>
<line x1="433.6" y1="665.02" x2="435.5" y2="665.02" stroke="#1a1a1a" stroke-width="1.1"/>
<line x1="433.6" y1="650.48" x2="435.5" y2="650.48" stroke="#1a1a1a" stroke-width="1.1"/>
<line x1="433.6" y1="635.92" x2="435.5" y2="635.92" stroke="#1a1a1a" stroke-width="1.1"/>
<line x1="433.6" y1="621.38" x2="435.5" y2="621.38" stroke="#1a1a1a" stroke-width="1.1"/>
<line x1="433.6" y1="606.82" x2="435.5" y2="606.82" stroke="#1a1a1a" stroke-width="1.1"/>
<line x1="433.6" y1="592.27" x2="435.5" y2="592.27" stroke="#1a1a1a" stroke-width="1.1"/>
<line x1="433.6" y1="577.72" x2="435.5" y2="577.72" stroke="#1a1a1a" stroke-width="1.1"/>
<line x1="433.6" y1="563.17" x2="435.5" y2="563.17" stroke="#1a1a1a" stroke-width="1.1"/>
<text x="452.3" y="715.7" font-size="11.3" text-anchor="middle" font-weight="bold" fill="#1a1a1a">S1</text>
<line x1="438" y1="700.9" x2="438" y2="698.3" stroke="#1a1a1a" stroke-width="1.1"/>
<line x1="452.6" y1="700.9" x2="452.6" y2="697.7" stroke="#1a1a1a" stroke-width="1.1"/>
<text x="481.5" y="715.7" font-size="11.3" text-anchor="middle" font-weight="bold" fill="#1a1a1a">S2</text>
<line x1="467.2" y1="700.9" x2="467.2" y2="698.3" stroke="#1a1a1a" stroke-width="1.1"/>
<line x1="481.8" y1="700.9" x2="481.8" y2="697.7" stroke="#1a1a1a" stroke-width="1.1"/>
<text x="510.7" y="715.7" font-size="11.3" text-anchor="middle" font-weight="bold" fill="#1a1a1a">S3</text>
<line x1="496.4" y1="700.9" x2="496.4" y2="698.3" stroke="#1a1a1a" stroke-width="1.1"/>
<line x1="511" y1="700.9" x2="511" y2="697.7" stroke="#1a1a1a" stroke-width="1.1"/>
<text x="539.9" y="715.7" font-size="11.3" text-anchor="middle" font-weight="bold" fill="#1a1a1a">S4</text>
<line x1="525.6" y1="700.9" x2="525.6" y2="698.3" stroke="#1a1a1a" stroke-width="1.1"/>
<line x1="540.2" y1="700.9" x2="540.2" y2="697.7" stroke="#1a1a1a" stroke-width="1.1"/>
<text x="569.1" y="715.7" font-size="11.3" text-anchor="middle" font-weight="bold" fill="#1a1a1a">S5</text>
<line x1="554.8" y1="700.9" x2="554.8" y2="698.3" stroke="#1a1a1a" stroke-width="1.1"/>
<line x1="569.4" y1="700.9" x2="569.4" y2="697.7" stroke="#1a1a1a" stroke-width="1.1"/>
<text x="437.4" y="568.8" font-size="12.8" text-anchor="start" font-weight="bold" font-style="italic" fill="#1a1a1a">ScbHLH17</text>
<rect x="505.75" y="556.95" width="27.5" height="12.8" fill="#fcbcc0" stroke="#7a6464" stroke-width="0.9"/>
<rect x="505.75" y="572.85" width="27.5" height="12.8" fill="#ffffff" stroke="#626262" stroke-width="0.9"/>
<text x="536.9" y="567.6" font-size="12.5" text-anchor="start" font-weight="bold" fill="#1a1a1a">JePB-C</text>
<text x="536.9" y="583.5" font-size="12.5" text-anchor="start" font-weight="bold" fill="#1a1a1a">JePB-W</text>
<path d="M455.55 686v5M453.38 687.25l4.33 2.5M453.38 689.75l4.33 -2.5M461.45 686v5M459.28 687.25l4.33 2.5M459.28 689.75l4.33 -2.5M484.85 678.3v5M482.69 679.55l4.33 2.5M482.69 682.05l4.33 -2.5M490.75 678.3v5M488.58 679.55l4.33 2.5M488.58 682.05l4.33 -2.5M513.85 678.8v5M511.68 680.05l4.33 2.5M511.68 682.55l4.33 -2.5M519.75 678.8v5M517.59 680.05l4.33 2.5M517.59 682.55l4.33 -2.5M574.7 687.3v5M572.54 688.55l4.33 2.5M572.54 691.05l4.33 -2.5" stroke="#606060" stroke-width="1.2" fill="none"/>
</g>
</svg>
</body></html>
